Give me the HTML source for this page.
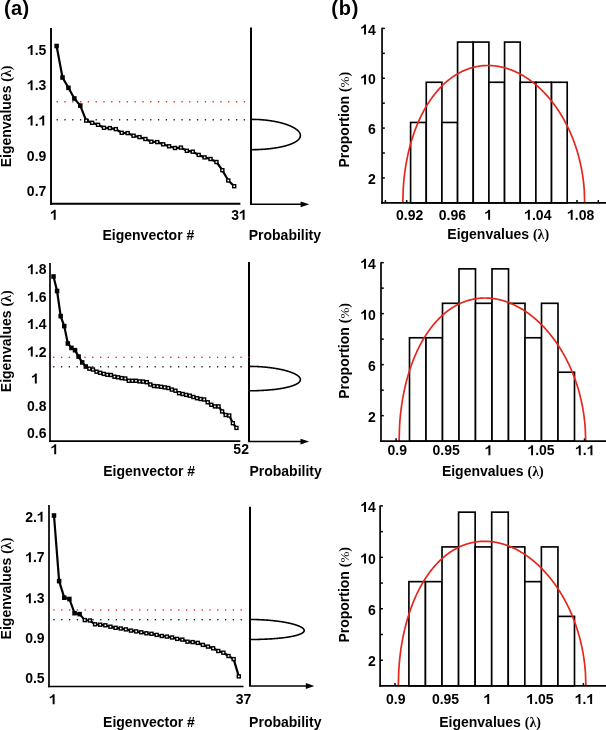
<!DOCTYPE html>
<html><head><meta charset="utf-8"><style>
html,body{margin:0;padding:0;background:#fff;}
svg{display:block;font-family:"Liberation Sans", sans-serif;will-change:transform;}
</style></head><body>
<svg width="606" height="730" viewBox="0 0 606 730">
<rect width="606" height="730" fill="#fff"/>
<line x1="51.00" y1="27.90" x2="51.00" y2="204.65" stroke="#000" stroke-width="1.9" />
<line x1="50.05" y1="203.70" x2="240.40" y2="203.70" stroke="#000" stroke-width="1.9" />
<line x1="251.00" y1="27.40" x2="251.00" y2="204.30" stroke="#000" stroke-width="2" />
<line x1="250.00" y1="204.30" x2="302.90" y2="204.30" stroke="#000" stroke-width="1.5" />
<path d="M309.20,204.30 L300.60,201.40 L300.60,207.20 Z" fill="#000"/>
<path d="M251.00,119.35 L256.34,119.45 L258.55,119.55 L260.23,119.65 L261.64,119.75 L262.88,119.86 L264.00,119.96 L265.03,120.06 L265.97,120.16 L266.86,120.26 L267.70,120.36 L268.49,120.46 L269.24,120.56 L269.96,120.67 L270.65,120.77 L271.31,120.87 L271.95,120.97 L272.57,121.07 L273.16,121.17 L273.74,121.27 L274.30,121.37 L274.84,121.47 L275.37,121.58 L275.88,121.68 L276.38,121.78 L276.87,121.88 L277.34,121.98 L277.80,122.08 L278.26,122.18 L278.70,122.28 L279.13,122.38 L279.56,122.49 L279.97,122.59 L280.38,122.69 L280.78,122.79 L281.17,122.89 L281.55,122.99 L281.92,123.09 L282.29,123.19 L282.65,123.30 L283.01,123.40 L283.36,123.50 L283.70,123.60 L284.04,123.70 L284.37,123.80 L284.69,123.90 L285.01,124.00 L285.32,124.10 L285.63,124.21 L285.94,124.31 L286.24,124.41 L286.53,124.51 L286.82,124.61 L287.10,124.71 L287.38,124.81 L287.66,124.91 L287.93,125.02 L288.20,125.12 L288.46,125.22 L288.72,125.32 L288.97,125.42 L289.23,125.52 L289.47,125.62 L289.72,125.72 L289.96,125.82 L290.19,125.93 L290.42,126.03 L290.65,126.13 L290.88,126.23 L291.10,126.33 L291.32,126.43 L291.54,126.53 L291.75,126.63 L291.96,126.74 L292.16,126.84 L292.36,126.94 L292.56,127.04 L292.76,127.14 L292.95,127.24 L293.14,127.34 L293.33,127.44 L293.52,127.54 L293.70,127.65 L293.88,127.75 L294.05,127.85 L294.23,127.95 L294.40,128.05 L294.56,128.15 L294.73,128.25 L294.89,128.35 L295.05,128.45 L295.21,128.56 L295.36,128.66 L295.51,128.76 L295.66,128.86 L295.81,128.96 L295.95,129.06 L296.09,129.16 L296.23,129.26 L296.37,129.37 L296.50,129.47 L296.64,129.57 L296.76,129.67 L296.89,129.77 L297.02,129.87 L297.14,129.97 L297.26,130.07 L297.37,130.17 L297.49,130.28 L297.60,130.38 L297.71,130.48 L297.82,130.58 L297.93,130.68 L298.03,130.78 L298.13,130.88 L298.23,130.98 L298.33,131.09 L298.42,131.19 L298.51,131.29 L298.60,131.39 L298.69,131.49 L298.77,131.59 L298.86,131.69 L298.94,131.79 L299.02,131.89 L299.09,132.00 L299.17,132.10 L299.24,132.20 L299.31,132.30 L299.38,132.40 L299.44,132.50 L299.51,132.60 L299.57,132.70 L299.63,132.81 L299.68,132.91 L299.74,133.01 L299.79,133.11 L299.84,133.21 L299.89,133.31 L299.93,133.41 L299.98,133.51 L300.02,133.61 L300.06,133.72 L300.10,133.82 L300.13,133.92 L300.17,134.02 L300.20,134.12 L300.22,134.22 L300.25,134.32 L300.28,134.42 L300.30,134.52 L300.32,134.63 L300.34,134.73 L300.35,134.83 L300.37,134.93 L300.38,135.03 L300.39,135.13 L300.39,135.23 L300.40,135.33 L300.40,135.44 L300.40,135.54 L300.40,135.64 L300.39,135.74 L300.39,135.84 L300.38,135.94 L300.37,136.04 L300.36,136.14 L300.34,136.24 L300.32,136.35 L300.30,136.45 L300.28,136.55 L300.26,136.65 L300.23,136.75 L300.20,136.85 L300.17,136.95 L300.13,137.05 L300.10,137.16 L300.06,137.26 L300.02,137.36 L299.98,137.46 L299.93,137.56 L299.88,137.66 L299.83,137.76 L299.78,137.86 L299.72,137.96 L299.67,138.07 L299.61,138.17 L299.54,138.27 L299.48,138.37 L299.41,138.47 L299.34,138.57 L299.27,138.67 L299.19,138.77 L299.12,138.88 L299.03,138.98 L298.95,139.08 L298.87,139.18 L298.78,139.28 L298.69,139.38 L298.59,139.48 L298.50,139.58 L298.40,139.68 L298.29,139.79 L298.19,139.89 L298.08,139.99 L297.97,140.09 L297.86,140.19 L297.74,140.29 L297.62,140.39 L297.50,140.49 L297.37,140.59 L297.25,140.70 L297.11,140.80 L296.98,140.90 L296.84,141.00 L296.70,141.10 L296.56,141.20 L296.41,141.30 L296.26,141.40 L296.11,141.51 L295.95,141.61 L295.79,141.71 L295.62,141.81 L295.46,141.91 L295.29,142.01 L295.11,142.11 L294.93,142.21 L294.75,142.31 L294.56,142.42 L294.37,142.52 L294.18,142.62 L293.98,142.72 L293.78,142.82 L293.58,142.92 L293.37,143.02 L293.15,143.12 L292.94,143.23 L292.71,143.33 L292.49,143.43 L292.26,143.53 L292.02,143.63 L291.78,143.73 L291.53,143.83 L291.28,143.93 L291.03,144.03 L290.77,144.14 L290.50,144.24 L290.23,144.34 L289.96,144.44 L289.68,144.54 L289.39,144.64 L289.10,144.74 L288.80,144.84 L288.49,144.95 L288.18,145.05 L287.86,145.15 L287.54,145.25 L287.21,145.35 L286.87,145.45 L286.53,145.55 L286.17,145.65 L285.81,145.75 L285.45,145.86 L285.07,145.96 L284.68,146.06 L284.29,146.16 L283.89,146.26 L283.48,146.36 L283.06,146.46 L282.62,146.56 L282.18,146.66 L281.73,146.77 L281.26,146.87 L280.79,146.97 L280.30,147.07 L279.79,147.17 L279.27,147.27 L278.74,147.37 L278.19,147.47 L277.63,147.58 L277.04,147.68 L276.44,147.78 L275.82,147.88 L275.17,147.98 L274.50,148.08 L273.81,148.18 L273.08,148.28 L272.33,148.38 L271.53,148.49 L270.70,148.59 L269.83,148.69 L268.90,148.79 L267.91,148.89 L266.86,148.99 L265.71,149.09 L264.46,149.19 L263.06,149.30 L261.47,149.40 L259.57,149.50 L257.07,149.60 L251.00,149.70" fill="none" stroke="#000" stroke-width="1.6"/>
<rect x="56.55" y="101.15" width="1.3" height="1.3" fill="#f00"/>
<rect x="64.35" y="101.15" width="1.3" height="1.3" fill="#f00"/>
<rect x="72.15" y="101.15" width="1.3" height="1.3" fill="#f00"/>
<rect x="79.95" y="101.15" width="1.3" height="1.3" fill="#f00"/>
<rect x="87.75" y="101.15" width="1.3" height="1.3" fill="#f00"/>
<rect x="95.55" y="101.15" width="1.3" height="1.3" fill="#f00"/>
<rect x="103.35" y="101.15" width="1.3" height="1.3" fill="#f00"/>
<rect x="111.15" y="101.15" width="1.3" height="1.3" fill="#f00"/>
<rect x="118.95" y="101.15" width="1.3" height="1.3" fill="#f00"/>
<rect x="126.75" y="101.15" width="1.3" height="1.3" fill="#f00"/>
<rect x="134.55" y="101.15" width="1.3" height="1.3" fill="#f00"/>
<rect x="142.35" y="101.15" width="1.3" height="1.3" fill="#f00"/>
<rect x="150.15" y="101.15" width="1.3" height="1.3" fill="#f00"/>
<rect x="157.95" y="101.15" width="1.3" height="1.3" fill="#f00"/>
<rect x="165.75" y="101.15" width="1.3" height="1.3" fill="#f00"/>
<rect x="173.55" y="101.15" width="1.3" height="1.3" fill="#f00"/>
<rect x="181.35" y="101.15" width="1.3" height="1.3" fill="#f00"/>
<rect x="189.15" y="101.15" width="1.3" height="1.3" fill="#f00"/>
<rect x="196.95" y="101.15" width="1.3" height="1.3" fill="#f00"/>
<rect x="204.75" y="101.15" width="1.3" height="1.3" fill="#f00"/>
<rect x="212.55" y="101.15" width="1.3" height="1.3" fill="#f00"/>
<rect x="220.35" y="101.15" width="1.3" height="1.3" fill="#f00"/>
<rect x="228.15" y="101.15" width="1.3" height="1.3" fill="#f00"/>
<rect x="235.95" y="101.15" width="1.3" height="1.3" fill="#f00"/>
<rect x="243.75" y="101.15" width="1.3" height="1.3" fill="#f00"/>
<rect x="56.55" y="119.15" width="1.3" height="1.3" fill="#000"/>
<rect x="64.35" y="119.15" width="1.3" height="1.3" fill="#000"/>
<rect x="72.15" y="119.15" width="1.3" height="1.3" fill="#000"/>
<rect x="79.95" y="119.15" width="1.3" height="1.3" fill="#000"/>
<rect x="87.75" y="119.15" width="1.3" height="1.3" fill="#000"/>
<rect x="95.55" y="119.15" width="1.3" height="1.3" fill="#000"/>
<rect x="103.35" y="119.15" width="1.3" height="1.3" fill="#000"/>
<rect x="111.15" y="119.15" width="1.3" height="1.3" fill="#000"/>
<rect x="118.95" y="119.15" width="1.3" height="1.3" fill="#000"/>
<rect x="126.75" y="119.15" width="1.3" height="1.3" fill="#000"/>
<rect x="134.55" y="119.15" width="1.3" height="1.3" fill="#000"/>
<rect x="142.35" y="119.15" width="1.3" height="1.3" fill="#000"/>
<rect x="150.15" y="119.15" width="1.3" height="1.3" fill="#000"/>
<rect x="157.95" y="119.15" width="1.3" height="1.3" fill="#000"/>
<rect x="165.75" y="119.15" width="1.3" height="1.3" fill="#000"/>
<rect x="173.55" y="119.15" width="1.3" height="1.3" fill="#000"/>
<rect x="181.35" y="119.15" width="1.3" height="1.3" fill="#000"/>
<rect x="189.15" y="119.15" width="1.3" height="1.3" fill="#000"/>
<rect x="196.95" y="119.15" width="1.3" height="1.3" fill="#000"/>
<rect x="204.75" y="119.15" width="1.3" height="1.3" fill="#000"/>
<rect x="212.55" y="119.15" width="1.3" height="1.3" fill="#000"/>
<rect x="220.35" y="119.15" width="1.3" height="1.3" fill="#000"/>
<rect x="228.15" y="119.15" width="1.3" height="1.3" fill="#000"/>
<rect x="235.95" y="119.15" width="1.3" height="1.3" fill="#000"/>
<rect x="243.75" y="119.15" width="1.3" height="1.3" fill="#000"/>
<path d="M56.60,46.00 L62.52,77.50 L68.44,87.80 L74.36,98.50 L80.28,105.60 L86.20,120.60 L92.12,122.80 L98.04,124.80 L103.96,127.80 L109.88,128.10 L115.80,129.10 L121.72,132.80 L127.64,133.10 L133.56,135.70 L139.48,137.10 L145.40,139.00 L151.32,141.70 L157.24,142.10 L163.16,144.30 L169.08,146.30 L175.00,148.00 L180.92,147.60 L186.84,150.80 L192.76,151.70 L198.68,154.90 L204.60,157.40 L210.52,159.00 L216.44,162.00 L222.36,170.20 L228.28,180.50 L234.20,186.20" fill="none" stroke="#000" stroke-width="2.2" stroke-linejoin="round"/>
<rect x="54.35" y="43.70" width="4.5" height="4.6" fill="#000"/>
<rect x="60.27" y="75.20" width="4.5" height="4.6" fill="#000"/>
<rect x="66.19" y="85.50" width="4.5" height="4.6" fill="#000"/>
<rect x="72.11" y="96.20" width="4.5" height="4.6" fill="#000"/>
<rect x="78.03" y="103.30" width="4.5" height="4.6" fill="#000"/>
<rect x="84.70" y="119.10" width="3.0" height="3.0" fill="#fff" stroke="#000" stroke-width="1.4"/>
<rect x="90.62" y="121.30" width="3.0" height="3.0" fill="#fff" stroke="#000" stroke-width="1.4"/>
<rect x="96.54" y="123.30" width="3.0" height="3.0" fill="#fff" stroke="#000" stroke-width="1.4"/>
<rect x="102.46" y="126.30" width="3.0" height="3.0" fill="#fff" stroke="#000" stroke-width="1.4"/>
<rect x="108.38" y="126.60" width="3.0" height="3.0" fill="#fff" stroke="#000" stroke-width="1.4"/>
<rect x="114.30" y="127.60" width="3.0" height="3.0" fill="#fff" stroke="#000" stroke-width="1.4"/>
<rect x="120.22" y="131.30" width="3.0" height="3.0" fill="#fff" stroke="#000" stroke-width="1.4"/>
<rect x="126.14" y="131.60" width="3.0" height="3.0" fill="#fff" stroke="#000" stroke-width="1.4"/>
<rect x="132.06" y="134.20" width="3.0" height="3.0" fill="#fff" stroke="#000" stroke-width="1.4"/>
<rect x="137.98" y="135.60" width="3.0" height="3.0" fill="#fff" stroke="#000" stroke-width="1.4"/>
<rect x="143.90" y="137.50" width="3.0" height="3.0" fill="#fff" stroke="#000" stroke-width="1.4"/>
<rect x="149.82" y="140.20" width="3.0" height="3.0" fill="#fff" stroke="#000" stroke-width="1.4"/>
<rect x="155.74" y="140.60" width="3.0" height="3.0" fill="#fff" stroke="#000" stroke-width="1.4"/>
<rect x="161.66" y="142.80" width="3.0" height="3.0" fill="#fff" stroke="#000" stroke-width="1.4"/>
<rect x="167.58" y="144.80" width="3.0" height="3.0" fill="#fff" stroke="#000" stroke-width="1.4"/>
<rect x="173.50" y="146.50" width="3.0" height="3.0" fill="#fff" stroke="#000" stroke-width="1.4"/>
<rect x="179.42" y="146.10" width="3.0" height="3.0" fill="#fff" stroke="#000" stroke-width="1.4"/>
<rect x="185.34" y="149.30" width="3.0" height="3.0" fill="#fff" stroke="#000" stroke-width="1.4"/>
<rect x="191.26" y="150.20" width="3.0" height="3.0" fill="#fff" stroke="#000" stroke-width="1.4"/>
<rect x="197.18" y="153.40" width="3.0" height="3.0" fill="#fff" stroke="#000" stroke-width="1.4"/>
<rect x="203.10" y="155.90" width="3.0" height="3.0" fill="#fff" stroke="#000" stroke-width="1.4"/>
<rect x="209.02" y="157.50" width="3.0" height="3.0" fill="#fff" stroke="#000" stroke-width="1.4"/>
<rect x="214.94" y="160.50" width="3.0" height="3.0" fill="#fff" stroke="#000" stroke-width="1.4"/>
<rect x="220.86" y="168.70" width="3.0" height="3.0" fill="#fff" stroke="#000" stroke-width="1.4"/>
<rect x="226.78" y="179.00" width="3.0" height="3.0" fill="#fff" stroke="#000" stroke-width="1.4"/>
<rect x="232.70" y="184.70" width="3.0" height="3.0" fill="#fff" stroke="#000" stroke-width="1.4"/>
<path transform="translate(26.87,55.00) scale(0.006836,-0.006836)" d="M830 0L545 0L545 1050Q390 910 125 840L125 1090Q270 1132 400 1230Q545 1340 590 1466L830 1466Z"/>
<text x="34.66" y="55.00" text-anchor="start" font-size="14" font-weight="bold" >.5</text>
<path transform="translate(26.87,90.30) scale(0.006836,-0.006836)" d="M830 0L545 0L545 1050Q390 910 125 840L125 1090Q270 1132 400 1230Q545 1340 590 1466L830 1466Z"/>
<text x="34.66" y="90.30" text-anchor="start" font-size="14" font-weight="bold" >.3</text>
<path transform="translate(26.87,125.60) scale(0.006836,-0.006836)" d="M830 0L545 0L545 1050Q390 910 125 840L125 1090Q270 1132 400 1230Q545 1340 590 1466L830 1466Z"/>
<text x="34.66" y="125.60" text-anchor="start" font-size="14" font-weight="bold" >.</text>
<path transform="translate(38.54,125.60) scale(0.006836,-0.006836)" d="M830 0L545 0L545 1050Q390 910 125 840L125 1090Q270 1132 400 1230Q545 1340 590 1466L830 1466Z"/>
<text x="36.60" y="160.80" text-anchor="middle" font-size="14" font-weight="bold" >0.9</text>
<text x="36.60" y="196.10" text-anchor="middle" font-size="14" font-weight="bold" >0.7</text>
<path transform="translate(50.00,219.70) scale(0.006836,-0.006836)" d="M830 0L545 0L545 1050Q390 910 125 840L125 1090Q270 1132 400 1230Q545 1340 590 1466L830 1466Z"/>
<text x="231.13" y="219.70" text-anchor="start" font-size="14" font-weight="bold" >3</text>
<path transform="translate(238.91,219.70) scale(0.006836,-0.006836)" d="M830 0L545 0L545 1050Q390 910 125 840L125 1090Q270 1132 400 1230Q545 1340 590 1466L830 1466Z"/>
<text x="148.40" y="239.50" text-anchor="middle" font-size="14" font-weight="bold" >Eigenvector #</text>
<text x="284.90" y="239.50" text-anchor="middle" font-size="14" font-weight="bold" >Probability</text>
<text x="6.00" y="116.40" text-anchor="middle" font-size="14" font-weight="bold" transform="rotate(-90 6.0 116.4)" dy="5">Eigenvalues <tspan font-family="Liberation Serif" font-weight="bold">(λ)</tspan></text>
<line x1="50.00" y1="263.00" x2="50.00" y2="442.05" stroke="#000" stroke-width="1.7" />
<line x1="49.15" y1="441.20" x2="240.30" y2="441.20" stroke="#000" stroke-width="1.7" />
<line x1="249.00" y1="261.90" x2="249.00" y2="441.60" stroke="#000" stroke-width="2" />
<line x1="248.00" y1="441.60" x2="302.80" y2="441.60" stroke="#000" stroke-width="1.5" />
<path d="M309.10,441.60 L300.50,438.70 L300.50,444.50 Z" fill="#000"/>
<path d="M249.00,366.40 L254.46,366.48 L256.71,366.56 L258.44,366.64 L259.88,366.73 L261.15,366.81 L262.30,366.89 L263.35,366.97 L264.32,367.05 L265.23,367.13 L266.08,367.21 L266.90,367.29 L267.67,367.38 L268.41,367.46 L269.12,367.54 L269.80,367.62 L270.45,367.70 L271.08,367.78 L271.69,367.86 L272.29,367.95 L272.86,368.03 L273.42,368.11 L273.96,368.19 L274.49,368.27 L275.00,368.35 L275.51,368.43 L276.00,368.51 L276.47,368.60 L276.94,368.68 L277.40,368.76 L277.84,368.84 L278.28,368.92 L278.71,369.00 L279.13,369.08 L279.54,369.17 L279.95,369.25 L280.34,369.33 L280.73,369.41 L281.11,369.49 L281.49,369.57 L281.85,369.65 L282.21,369.73 L282.57,369.82 L282.92,369.90 L283.26,369.98 L283.60,370.06 L283.93,370.14 L284.26,370.22 L284.58,370.30 L284.89,370.39 L285.20,370.47 L285.51,370.55 L285.81,370.63 L286.11,370.71 L286.40,370.79 L286.69,370.87 L286.97,370.95 L287.25,371.04 L287.52,371.12 L287.79,371.20 L288.06,371.28 L288.32,371.36 L288.58,371.44 L288.84,371.52 L289.09,371.61 L289.33,371.69 L289.58,371.77 L289.82,371.85 L290.06,371.93 L290.29,372.01 L290.52,372.09 L290.74,372.17 L290.97,372.26 L291.19,372.34 L291.40,372.42 L291.62,372.50 L291.83,372.58 L292.03,372.66 L292.24,372.74 L292.44,372.83 L292.64,372.91 L292.83,372.99 L293.02,373.07 L293.21,373.15 L293.40,373.23 L293.58,373.31 L293.76,373.39 L293.94,373.48 L294.12,373.56 L294.29,373.64 L294.46,373.72 L294.63,373.80 L294.79,373.88 L294.95,373.96 L295.11,374.05 L295.27,374.13 L295.42,374.21 L295.57,374.29 L295.72,374.37 L295.87,374.45 L296.01,374.53 L296.15,374.61 L296.29,374.70 L296.43,374.78 L296.56,374.86 L296.69,374.94 L296.82,375.02 L296.95,375.10 L297.07,375.18 L297.20,375.27 L297.32,375.35 L297.43,375.43 L297.55,375.51 L297.66,375.59 L297.77,375.67 L297.88,375.75 L297.98,375.83 L298.09,375.92 L298.19,376.00 L298.29,376.08 L298.38,376.16 L298.48,376.24 L298.57,376.32 L298.66,376.40 L298.74,376.49 L298.83,376.57 L298.91,376.65 L298.99,376.73 L299.07,376.81 L299.15,376.89 L299.22,376.97 L299.29,377.05 L299.36,377.14 L299.43,377.22 L299.49,377.30 L299.56,377.38 L299.62,377.46 L299.67,377.54 L299.73,377.62 L299.78,377.71 L299.84,377.79 L299.88,377.87 L299.93,377.95 L299.98,378.03 L300.02,378.11 L300.06,378.19 L300.10,378.27 L300.13,378.36 L300.17,378.44 L300.20,378.52 L300.23,378.60 L300.25,378.68 L300.28,378.76 L300.30,378.84 L300.32,378.93 L300.34,379.01 L300.35,379.09 L300.37,379.17 L300.38,379.25 L300.39,379.33 L300.39,379.41 L300.40,379.49 L300.40,379.58 L300.40,379.66 L300.40,379.74 L300.39,379.82 L300.38,379.90 L300.37,379.98 L300.36,380.06 L300.35,380.15 L300.33,380.23 L300.31,380.31 L300.29,380.39 L300.27,380.47 L300.24,380.55 L300.21,380.63 L300.18,380.71 L300.15,380.80 L300.11,380.88 L300.07,380.96 L300.03,381.04 L299.98,381.12 L299.94,381.20 L299.89,381.28 L299.84,381.37 L299.78,381.45 L299.73,381.53 L299.67,381.61 L299.61,381.69 L299.54,381.77 L299.48,381.85 L299.41,381.93 L299.33,382.02 L299.26,382.10 L299.18,382.18 L299.10,382.26 L299.02,382.34 L298.93,382.42 L298.84,382.50 L298.75,382.59 L298.65,382.67 L298.56,382.75 L298.46,382.83 L298.35,382.91 L298.25,382.99 L298.14,383.07 L298.02,383.15 L297.91,383.24 L297.79,383.32 L297.67,383.40 L297.54,383.48 L297.41,383.56 L297.28,383.64 L297.15,383.72 L297.01,383.81 L296.87,383.89 L296.72,383.97 L296.57,384.05 L296.42,384.13 L296.27,384.21 L296.11,384.29 L295.95,384.37 L295.78,384.46 L295.61,384.54 L295.44,384.62 L295.26,384.70 L295.08,384.78 L294.89,384.86 L294.70,384.94 L294.51,385.03 L294.31,385.11 L294.11,385.19 L293.91,385.27 L293.70,385.35 L293.48,385.43 L293.26,385.51 L293.04,385.59 L292.81,385.68 L292.58,385.76 L292.34,385.84 L292.10,385.92 L291.85,386.00 L291.60,386.08 L291.34,386.16 L291.08,386.25 L290.81,386.33 L290.54,386.41 L290.26,386.49 L289.98,386.57 L289.69,386.65 L289.39,386.73 L289.09,386.81 L288.78,386.90 L288.46,386.98 L288.14,387.06 L287.81,387.14 L287.47,387.22 L287.13,387.30 L286.78,387.38 L286.42,387.47 L286.06,387.55 L285.68,387.63 L285.30,387.71 L284.91,387.79 L284.51,387.87 L284.10,387.95 L283.68,388.03 L283.25,388.12 L282.81,388.20 L282.36,388.28 L281.89,388.36 L281.42,388.44 L280.93,388.52 L280.43,388.60 L279.92,388.69 L279.39,388.77 L278.85,388.85 L278.29,388.93 L277.72,389.01 L277.12,389.09 L276.51,389.17 L275.88,389.25 L275.22,389.34 L274.54,389.42 L273.84,389.50 L273.11,389.58 L272.34,389.66 L271.55,389.74 L270.71,389.82 L269.84,389.91 L268.91,389.99 L267.94,390.07 L266.89,390.15 L265.78,390.23 L264.57,390.31 L263.24,390.39 L261.77,390.47 L260.08,390.56 L258.07,390.64 L255.43,390.72 L249.00,390.80" fill="none" stroke="#000" stroke-width="1.6"/>
<rect x="53.15" y="356.65" width="1.3" height="1.3" fill="#f00"/>
<rect x="60.95" y="356.65" width="1.3" height="1.3" fill="#f00"/>
<rect x="68.75" y="356.65" width="1.3" height="1.3" fill="#f00"/>
<rect x="76.55" y="356.65" width="1.3" height="1.3" fill="#f00"/>
<rect x="84.35" y="356.65" width="1.3" height="1.3" fill="#f00"/>
<rect x="92.15" y="356.65" width="1.3" height="1.3" fill="#f00"/>
<rect x="99.95" y="356.65" width="1.3" height="1.3" fill="#f00"/>
<rect x="107.75" y="356.65" width="1.3" height="1.3" fill="#f00"/>
<rect x="115.55" y="356.65" width="1.3" height="1.3" fill="#f00"/>
<rect x="123.35" y="356.65" width="1.3" height="1.3" fill="#f00"/>
<rect x="131.15" y="356.65" width="1.3" height="1.3" fill="#f00"/>
<rect x="138.95" y="356.65" width="1.3" height="1.3" fill="#f00"/>
<rect x="146.75" y="356.65" width="1.3" height="1.3" fill="#f00"/>
<rect x="154.55" y="356.65" width="1.3" height="1.3" fill="#f00"/>
<rect x="162.35" y="356.65" width="1.3" height="1.3" fill="#f00"/>
<rect x="170.15" y="356.65" width="1.3" height="1.3" fill="#f00"/>
<rect x="177.95" y="356.65" width="1.3" height="1.3" fill="#f00"/>
<rect x="185.75" y="356.65" width="1.3" height="1.3" fill="#f00"/>
<rect x="193.55" y="356.65" width="1.3" height="1.3" fill="#f00"/>
<rect x="201.35" y="356.65" width="1.3" height="1.3" fill="#f00"/>
<rect x="209.15" y="356.65" width="1.3" height="1.3" fill="#f00"/>
<rect x="216.95" y="356.65" width="1.3" height="1.3" fill="#f00"/>
<rect x="224.75" y="356.65" width="1.3" height="1.3" fill="#f00"/>
<rect x="232.55" y="356.65" width="1.3" height="1.3" fill="#f00"/>
<rect x="240.35" y="356.65" width="1.3" height="1.3" fill="#f00"/>
<rect x="248.15" y="356.65" width="1.3" height="1.3" fill="#f00"/>
<rect x="53.15" y="366.15" width="1.3" height="1.3" fill="#000"/>
<rect x="60.95" y="366.15" width="1.3" height="1.3" fill="#000"/>
<rect x="68.75" y="366.15" width="1.3" height="1.3" fill="#000"/>
<rect x="76.55" y="366.15" width="1.3" height="1.3" fill="#000"/>
<rect x="84.35" y="366.15" width="1.3" height="1.3" fill="#000"/>
<rect x="92.15" y="366.15" width="1.3" height="1.3" fill="#000"/>
<rect x="99.95" y="366.15" width="1.3" height="1.3" fill="#000"/>
<rect x="107.75" y="366.15" width="1.3" height="1.3" fill="#000"/>
<rect x="115.55" y="366.15" width="1.3" height="1.3" fill="#000"/>
<rect x="123.35" y="366.15" width="1.3" height="1.3" fill="#000"/>
<rect x="131.15" y="366.15" width="1.3" height="1.3" fill="#000"/>
<rect x="138.95" y="366.15" width="1.3" height="1.3" fill="#000"/>
<rect x="146.75" y="366.15" width="1.3" height="1.3" fill="#000"/>
<rect x="154.55" y="366.15" width="1.3" height="1.3" fill="#000"/>
<rect x="162.35" y="366.15" width="1.3" height="1.3" fill="#000"/>
<rect x="170.15" y="366.15" width="1.3" height="1.3" fill="#000"/>
<rect x="177.95" y="366.15" width="1.3" height="1.3" fill="#000"/>
<rect x="185.75" y="366.15" width="1.3" height="1.3" fill="#000"/>
<rect x="193.55" y="366.15" width="1.3" height="1.3" fill="#000"/>
<rect x="201.35" y="366.15" width="1.3" height="1.3" fill="#000"/>
<rect x="209.15" y="366.15" width="1.3" height="1.3" fill="#000"/>
<rect x="216.95" y="366.15" width="1.3" height="1.3" fill="#000"/>
<rect x="224.75" y="366.15" width="1.3" height="1.3" fill="#000"/>
<rect x="232.55" y="366.15" width="1.3" height="1.3" fill="#000"/>
<rect x="240.35" y="366.15" width="1.3" height="1.3" fill="#000"/>
<rect x="248.15" y="366.15" width="1.3" height="1.3" fill="#000"/>
<path d="M53.50,276.50 L57.09,291.00 L60.67,316.10 L64.26,326.10 L67.85,343.50 L71.44,347.90 L75.02,350.20 L78.61,356.60 L82.20,362.40 L85.78,366.50 L89.37,368.70 L92.96,369.50 L96.54,371.70 L100.13,372.80 L103.72,373.90 L107.31,374.80 L110.89,375.00 L114.48,376.70 L118.07,377.30 L121.65,378.10 L125.24,378.50 L128.83,380.80 L132.41,380.80 L136.00,380.80 L139.59,381.40 L143.18,381.60 L146.76,382.20 L150.35,384.50 L153.94,386.00 L157.52,386.30 L161.11,386.80 L164.70,387.40 L168.28,388.00 L171.87,389.60 L175.46,390.70 L179.05,393.20 L182.63,394.00 L186.22,394.90 L189.81,395.70 L193.39,397.00 L196.98,398.20 L200.57,399.00 L204.15,399.50 L207.74,402.30 L211.33,404.80 L214.92,406.40 L218.50,406.40 L222.09,411.40 L225.68,415.00 L229.26,415.50 L232.85,423.20 L236.44,427.90" fill="none" stroke="#000" stroke-width="2.2" stroke-linejoin="round"/>
<rect x="51.25" y="274.20" width="4.5" height="4.6" fill="#000"/>
<rect x="54.84" y="288.70" width="4.5" height="4.6" fill="#000"/>
<rect x="58.42" y="313.80" width="4.5" height="4.6" fill="#000"/>
<rect x="62.01" y="323.80" width="4.5" height="4.6" fill="#000"/>
<rect x="65.60" y="341.20" width="4.5" height="4.6" fill="#000"/>
<rect x="69.19" y="345.60" width="4.5" height="4.6" fill="#000"/>
<rect x="72.77" y="347.90" width="4.5" height="4.6" fill="#000"/>
<rect x="76.36" y="354.30" width="4.5" height="4.6" fill="#000"/>
<rect x="79.95" y="360.10" width="4.5" height="4.6" fill="#000"/>
<rect x="83.53" y="364.20" width="4.5" height="4.6" fill="#000"/>
<rect x="87.87" y="367.20" width="3.0" height="3.0" fill="#fff" stroke="#000" stroke-width="1.4"/>
<rect x="91.46" y="368.00" width="3.0" height="3.0" fill="#fff" stroke="#000" stroke-width="1.4"/>
<rect x="95.04" y="370.20" width="3.0" height="3.0" fill="#fff" stroke="#000" stroke-width="1.4"/>
<rect x="98.63" y="371.30" width="3.0" height="3.0" fill="#fff" stroke="#000" stroke-width="1.4"/>
<rect x="102.22" y="372.40" width="3.0" height="3.0" fill="#fff" stroke="#000" stroke-width="1.4"/>
<rect x="105.81" y="373.30" width="3.0" height="3.0" fill="#fff" stroke="#000" stroke-width="1.4"/>
<rect x="109.39" y="373.50" width="3.0" height="3.0" fill="#fff" stroke="#000" stroke-width="1.4"/>
<rect x="112.98" y="375.20" width="3.0" height="3.0" fill="#fff" stroke="#000" stroke-width="1.4"/>
<rect x="116.57" y="375.80" width="3.0" height="3.0" fill="#fff" stroke="#000" stroke-width="1.4"/>
<rect x="120.15" y="376.60" width="3.0" height="3.0" fill="#fff" stroke="#000" stroke-width="1.4"/>
<rect x="123.74" y="377.00" width="3.0" height="3.0" fill="#fff" stroke="#000" stroke-width="1.4"/>
<rect x="127.33" y="379.30" width="3.0" height="3.0" fill="#fff" stroke="#000" stroke-width="1.4"/>
<rect x="130.91" y="379.30" width="3.0" height="3.0" fill="#fff" stroke="#000" stroke-width="1.4"/>
<rect x="134.50" y="379.30" width="3.0" height="3.0" fill="#fff" stroke="#000" stroke-width="1.4"/>
<rect x="138.09" y="379.90" width="3.0" height="3.0" fill="#fff" stroke="#000" stroke-width="1.4"/>
<rect x="141.68" y="380.10" width="3.0" height="3.0" fill="#fff" stroke="#000" stroke-width="1.4"/>
<rect x="145.26" y="380.70" width="3.0" height="3.0" fill="#fff" stroke="#000" stroke-width="1.4"/>
<rect x="148.85" y="383.00" width="3.0" height="3.0" fill="#fff" stroke="#000" stroke-width="1.4"/>
<rect x="152.44" y="384.50" width="3.0" height="3.0" fill="#fff" stroke="#000" stroke-width="1.4"/>
<rect x="156.02" y="384.80" width="3.0" height="3.0" fill="#fff" stroke="#000" stroke-width="1.4"/>
<rect x="159.61" y="385.30" width="3.0" height="3.0" fill="#fff" stroke="#000" stroke-width="1.4"/>
<rect x="163.20" y="385.90" width="3.0" height="3.0" fill="#fff" stroke="#000" stroke-width="1.4"/>
<rect x="166.78" y="386.50" width="3.0" height="3.0" fill="#fff" stroke="#000" stroke-width="1.4"/>
<rect x="170.37" y="388.10" width="3.0" height="3.0" fill="#fff" stroke="#000" stroke-width="1.4"/>
<rect x="173.96" y="389.20" width="3.0" height="3.0" fill="#fff" stroke="#000" stroke-width="1.4"/>
<rect x="177.55" y="391.70" width="3.0" height="3.0" fill="#fff" stroke="#000" stroke-width="1.4"/>
<rect x="181.13" y="392.50" width="3.0" height="3.0" fill="#fff" stroke="#000" stroke-width="1.4"/>
<rect x="184.72" y="393.40" width="3.0" height="3.0" fill="#fff" stroke="#000" stroke-width="1.4"/>
<rect x="188.31" y="394.20" width="3.0" height="3.0" fill="#fff" stroke="#000" stroke-width="1.4"/>
<rect x="191.89" y="395.50" width="3.0" height="3.0" fill="#fff" stroke="#000" stroke-width="1.4"/>
<rect x="195.48" y="396.70" width="3.0" height="3.0" fill="#fff" stroke="#000" stroke-width="1.4"/>
<rect x="199.07" y="397.50" width="3.0" height="3.0" fill="#fff" stroke="#000" stroke-width="1.4"/>
<rect x="202.65" y="398.00" width="3.0" height="3.0" fill="#fff" stroke="#000" stroke-width="1.4"/>
<rect x="206.24" y="400.80" width="3.0" height="3.0" fill="#fff" stroke="#000" stroke-width="1.4"/>
<rect x="209.83" y="403.30" width="3.0" height="3.0" fill="#fff" stroke="#000" stroke-width="1.4"/>
<rect x="213.42" y="404.90" width="3.0" height="3.0" fill="#fff" stroke="#000" stroke-width="1.4"/>
<rect x="217.00" y="404.90" width="3.0" height="3.0" fill="#fff" stroke="#000" stroke-width="1.4"/>
<rect x="220.59" y="409.90" width="3.0" height="3.0" fill="#fff" stroke="#000" stroke-width="1.4"/>
<rect x="224.18" y="413.50" width="3.0" height="3.0" fill="#fff" stroke="#000" stroke-width="1.4"/>
<rect x="227.76" y="414.00" width="3.0" height="3.0" fill="#fff" stroke="#000" stroke-width="1.4"/>
<rect x="231.35" y="421.70" width="3.0" height="3.0" fill="#fff" stroke="#000" stroke-width="1.4"/>
<rect x="234.94" y="426.40" width="3.0" height="3.0" fill="#fff" stroke="#000" stroke-width="1.4"/>
<path transform="translate(27.07,274.30) scale(0.006836,-0.006836)" d="M830 0L545 0L545 1050Q390 910 125 840L125 1090Q270 1132 400 1230Q545 1340 590 1466L830 1466Z"/>
<text x="34.86" y="274.30" text-anchor="start" font-size="14" font-weight="bold" >.8</text>
<path transform="translate(27.07,301.80) scale(0.006836,-0.006836)" d="M830 0L545 0L545 1050Q390 910 125 840L125 1090Q270 1132 400 1230Q545 1340 590 1466L830 1466Z"/>
<text x="34.86" y="301.80" text-anchor="start" font-size="14" font-weight="bold" >.6</text>
<path transform="translate(27.07,329.10) scale(0.006836,-0.006836)" d="M830 0L545 0L545 1050Q390 910 125 840L125 1090Q270 1132 400 1230Q545 1340 590 1466L830 1466Z"/>
<text x="34.86" y="329.10" text-anchor="start" font-size="14" font-weight="bold" >.4</text>
<path transform="translate(27.07,356.50) scale(0.006836,-0.006836)" d="M830 0L545 0L545 1050Q390 910 125 840L125 1090Q270 1132 400 1230Q545 1340 590 1466L830 1466Z"/>
<text x="34.86" y="356.50" text-anchor="start" font-size="14" font-weight="bold" >.2</text>
<path transform="translate(31.11,383.60) scale(0.006836,-0.006836)" d="M830 0L545 0L545 1050Q390 910 125 840L125 1090Q270 1132 400 1230Q545 1340 590 1466L830 1466Z"/>
<text x="36.80" y="410.60" text-anchor="middle" font-size="14" font-weight="bold" >0.8</text>
<text x="36.80" y="437.80" text-anchor="middle" font-size="14" font-weight="bold" >0.6</text>
<path transform="translate(50.50,454.30) scale(0.006836,-0.006836)" d="M830 0L545 0L545 1050Q390 910 125 840L125 1090Q270 1132 400 1230Q545 1340 590 1466L830 1466Z"/>
<text x="248.94" y="454.30" text-anchor="end" font-size="14" font-weight="bold" >52</text>
<text x="149.20" y="476.00" text-anchor="middle" font-size="14" font-weight="bold" >Eigenvector #</text>
<text x="285.60" y="476.00" text-anchor="middle" font-size="14" font-weight="bold" >Probability</text>
<text x="6.00" y="341.30" text-anchor="middle" font-size="14" font-weight="bold" transform="rotate(-90 6.0 341.3)" dy="5">Eigenvalues <tspan font-family="Liberation Serif" font-weight="bold">(λ)</tspan></text>
<line x1="49.00" y1="505.10" x2="49.00" y2="687.35" stroke="#000" stroke-width="1.7" />
<line x1="48.15" y1="686.50" x2="243.50" y2="686.50" stroke="#000" stroke-width="1.7" />
<line x1="250.00" y1="506.80" x2="250.00" y2="686.00" stroke="#000" stroke-width="2" />
<line x1="249.00" y1="686.00" x2="308.10" y2="686.00" stroke="#000" stroke-width="1.5" />
<path d="M314.40,686.00 L305.80,683.10 L305.80,688.90 Z" fill="#000"/>
<path d="M250.00,619.50 L255.65,619.57 L257.99,619.63 L259.77,619.70 L261.27,619.77 L262.59,619.83 L263.78,619.90 L264.86,619.97 L265.87,620.03 L266.82,620.10 L267.71,620.17 L268.55,620.23 L269.35,620.30 L270.12,620.37 L270.86,620.43 L271.57,620.50 L272.25,620.57 L272.91,620.63 L273.54,620.70 L274.16,620.77 L274.76,620.83 L275.34,620.90 L275.91,620.97 L276.46,621.03 L276.99,621.10 L277.52,621.17 L278.03,621.23 L278.53,621.30 L279.02,621.37 L279.49,621.43 L279.96,621.50 L280.42,621.57 L280.87,621.63 L281.31,621.70 L281.74,621.77 L282.16,621.83 L282.57,621.90 L282.98,621.97 L283.38,622.03 L283.77,622.10 L284.16,622.17 L284.54,622.23 L284.91,622.30 L285.28,622.37 L285.64,622.43 L285.99,622.50 L286.34,622.57 L286.69,622.63 L287.02,622.70 L287.36,622.77 L287.68,622.83 L288.01,622.90 L288.32,622.97 L288.64,623.03 L288.94,623.10 L289.25,623.17 L289.55,623.23 L289.84,623.30 L290.13,623.37 L290.42,623.43 L290.70,623.50 L290.98,623.57 L291.25,623.63 L291.52,623.70 L291.79,623.77 L292.05,623.83 L292.31,623.90 L292.56,623.97 L292.82,624.03 L293.06,624.10 L293.31,624.17 L293.55,624.23 L293.79,624.30 L294.02,624.37 L294.25,624.43 L294.48,624.50 L294.70,624.57 L294.92,624.63 L295.14,624.70 L295.36,624.77 L295.57,624.83 L295.78,624.90 L295.98,624.97 L296.19,625.03 L296.39,625.10 L296.58,625.17 L296.78,625.23 L296.97,625.30 L297.16,625.37 L297.34,625.43 L297.53,625.50 L297.71,625.57 L297.88,625.63 L298.06,625.70 L298.23,625.77 L298.40,625.83 L298.56,625.90 L298.73,625.97 L298.89,626.03 L299.05,626.10 L299.20,626.17 L299.36,626.23 L299.51,626.30 L299.66,626.37 L299.80,626.43 L299.95,626.50 L300.09,626.57 L300.23,626.63 L300.36,626.70 L300.49,626.77 L300.63,626.83 L300.75,626.90 L300.88,626.97 L301.00,627.03 L301.13,627.10 L301.24,627.17 L301.36,627.23 L301.47,627.30 L301.59,627.37 L301.70,627.43 L301.80,627.50 L301.91,627.57 L302.01,627.63 L302.11,627.70 L302.21,627.77 L302.30,627.83 L302.40,627.90 L302.49,627.97 L302.57,628.03 L302.66,628.10 L302.74,628.17 L302.82,628.23 L302.90,628.30 L302.98,628.37 L303.05,628.43 L303.13,628.50 L303.20,628.57 L303.26,628.63 L303.33,628.70 L303.39,628.77 L303.45,628.83 L303.51,628.90 L303.57,628.97 L303.62,629.03 L303.67,629.10 L303.72,629.17 L303.77,629.23 L303.81,629.30 L303.85,629.37 L303.89,629.43 L303.93,629.50 L303.96,629.57 L304.00,629.63 L304.03,629.70 L304.05,629.77 L304.08,629.83 L304.10,629.90 L304.12,629.97 L304.14,630.03 L304.16,630.10 L304.17,630.17 L304.18,630.23 L304.19,630.30 L304.20,630.37 L304.20,630.43 L304.20,630.50 L304.20,630.57 L304.20,630.63 L304.19,630.70 L304.18,630.77 L304.17,630.83 L304.16,630.90 L304.14,630.97 L304.12,631.03 L304.10,631.10 L304.08,631.17 L304.05,631.23 L304.02,631.30 L303.99,631.37 L303.95,631.43 L303.92,631.50 L303.88,631.57 L303.84,631.63 L303.79,631.70 L303.74,631.77 L303.69,631.83 L303.64,631.90 L303.58,631.97 L303.53,632.03 L303.46,632.10 L303.40,632.17 L303.33,632.23 L303.26,632.30 L303.19,632.37 L303.11,632.43 L303.04,632.50 L302.95,632.57 L302.87,632.63 L302.78,632.70 L302.69,632.77 L302.60,632.83 L302.50,632.90 L302.40,632.97 L302.30,633.03 L302.19,633.10 L302.08,633.17 L301.97,633.23 L301.85,633.30 L301.73,633.37 L301.61,633.43 L301.49,633.50 L301.36,633.57 L301.22,633.63 L301.09,633.70 L300.95,633.77 L300.80,633.83 L300.66,633.90 L300.51,633.97 L300.35,634.03 L300.19,634.10 L300.03,634.17 L299.86,634.23 L299.69,634.30 L299.52,634.37 L299.34,634.43 L299.16,634.50 L298.98,634.57 L298.79,634.63 L298.59,634.70 L298.39,634.77 L298.19,634.83 L297.98,634.90 L297.77,634.97 L297.55,635.03 L297.33,635.10 L297.10,635.17 L296.87,635.23 L296.64,635.30 L296.39,635.37 L296.15,635.43 L295.90,635.50 L295.64,635.57 L295.38,635.63 L295.11,635.70 L294.84,635.77 L294.56,635.83 L294.27,635.90 L293.98,635.97 L293.68,636.03 L293.38,636.10 L293.07,636.17 L292.75,636.23 L292.43,636.30 L292.09,636.37 L291.76,636.43 L291.41,636.50 L291.06,636.57 L290.70,636.63 L290.33,636.70 L289.95,636.77 L289.57,636.83 L289.17,636.90 L288.77,636.97 L288.35,637.03 L287.93,637.10 L287.50,637.17 L287.06,637.23 L286.60,637.30 L286.14,637.37 L285.66,637.43 L285.17,637.50 L284.67,637.57 L284.15,637.63 L283.62,637.70 L283.08,637.77 L282.52,637.83 L281.94,637.90 L281.35,637.97 L280.74,638.03 L280.11,638.10 L279.46,638.17 L278.78,638.23 L278.09,638.30 L277.36,638.37 L276.61,638.43 L275.83,638.50 L275.02,638.57 L274.17,638.63 L273.28,638.70 L272.34,638.77 L271.35,638.83 L270.31,638.90 L269.19,638.97 L268.00,639.03 L266.70,639.10 L265.29,639.17 L263.70,639.23 L261.90,639.30 L259.74,639.37 L256.90,639.43 L250.00,639.50" fill="none" stroke="#000" stroke-width="1.6"/>
<rect x="53.35" y="609.35" width="1.3" height="1.3" fill="#f00"/>
<rect x="61.15" y="609.35" width="1.3" height="1.3" fill="#f00"/>
<rect x="68.95" y="609.35" width="1.3" height="1.3" fill="#f00"/>
<rect x="76.75" y="609.35" width="1.3" height="1.3" fill="#f00"/>
<rect x="84.55" y="609.35" width="1.3" height="1.3" fill="#f00"/>
<rect x="92.35" y="609.35" width="1.3" height="1.3" fill="#f00"/>
<rect x="100.15" y="609.35" width="1.3" height="1.3" fill="#f00"/>
<rect x="107.95" y="609.35" width="1.3" height="1.3" fill="#f00"/>
<rect x="115.75" y="609.35" width="1.3" height="1.3" fill="#f00"/>
<rect x="123.55" y="609.35" width="1.3" height="1.3" fill="#f00"/>
<rect x="131.35" y="609.35" width="1.3" height="1.3" fill="#f00"/>
<rect x="139.15" y="609.35" width="1.3" height="1.3" fill="#f00"/>
<rect x="146.95" y="609.35" width="1.3" height="1.3" fill="#f00"/>
<rect x="154.75" y="609.35" width="1.3" height="1.3" fill="#f00"/>
<rect x="162.55" y="609.35" width="1.3" height="1.3" fill="#f00"/>
<rect x="170.35" y="609.35" width="1.3" height="1.3" fill="#f00"/>
<rect x="178.15" y="609.35" width="1.3" height="1.3" fill="#f00"/>
<rect x="185.95" y="609.35" width="1.3" height="1.3" fill="#f00"/>
<rect x="193.75" y="609.35" width="1.3" height="1.3" fill="#f00"/>
<rect x="201.55" y="609.35" width="1.3" height="1.3" fill="#f00"/>
<rect x="209.35" y="609.35" width="1.3" height="1.3" fill="#f00"/>
<rect x="217.15" y="609.35" width="1.3" height="1.3" fill="#f00"/>
<rect x="224.95" y="609.35" width="1.3" height="1.3" fill="#f00"/>
<rect x="232.75" y="609.35" width="1.3" height="1.3" fill="#f00"/>
<rect x="240.55" y="609.35" width="1.3" height="1.3" fill="#f00"/>
<rect x="53.35" y="619.05" width="1.3" height="1.3" fill="#000"/>
<rect x="61.15" y="619.05" width="1.3" height="1.3" fill="#000"/>
<rect x="68.95" y="619.05" width="1.3" height="1.3" fill="#000"/>
<rect x="76.75" y="619.05" width="1.3" height="1.3" fill="#000"/>
<rect x="84.55" y="619.05" width="1.3" height="1.3" fill="#000"/>
<rect x="92.35" y="619.05" width="1.3" height="1.3" fill="#000"/>
<rect x="100.15" y="619.05" width="1.3" height="1.3" fill="#000"/>
<rect x="107.95" y="619.05" width="1.3" height="1.3" fill="#000"/>
<rect x="115.75" y="619.05" width="1.3" height="1.3" fill="#000"/>
<rect x="123.55" y="619.05" width="1.3" height="1.3" fill="#000"/>
<rect x="131.35" y="619.05" width="1.3" height="1.3" fill="#000"/>
<rect x="139.15" y="619.05" width="1.3" height="1.3" fill="#000"/>
<rect x="146.95" y="619.05" width="1.3" height="1.3" fill="#000"/>
<rect x="154.75" y="619.05" width="1.3" height="1.3" fill="#000"/>
<rect x="162.55" y="619.05" width="1.3" height="1.3" fill="#000"/>
<rect x="170.35" y="619.05" width="1.3" height="1.3" fill="#000"/>
<rect x="178.15" y="619.05" width="1.3" height="1.3" fill="#000"/>
<rect x="185.95" y="619.05" width="1.3" height="1.3" fill="#000"/>
<rect x="193.75" y="619.05" width="1.3" height="1.3" fill="#000"/>
<rect x="201.55" y="619.05" width="1.3" height="1.3" fill="#000"/>
<rect x="209.35" y="619.05" width="1.3" height="1.3" fill="#000"/>
<rect x="217.15" y="619.05" width="1.3" height="1.3" fill="#000"/>
<rect x="224.95" y="619.05" width="1.3" height="1.3" fill="#000"/>
<rect x="232.75" y="619.05" width="1.3" height="1.3" fill="#000"/>
<rect x="240.55" y="619.05" width="1.3" height="1.3" fill="#000"/>
<path d="M54.00,515.50 L59.13,581.10 L64.27,597.70 L69.40,599.00 L74.53,613.20 L79.66,614.10 L84.80,620.10 L89.93,620.50 L95.06,624.30 L100.20,624.70 L105.33,625.30 L110.46,626.70 L115.60,627.80 L120.73,628.50 L125.86,629.40 L131.00,630.60 L136.13,631.40 L141.26,632.30 L146.39,633.30 L151.53,633.80 L156.66,634.90 L161.79,636.00 L166.93,636.60 L172.06,637.50 L177.19,638.90 L182.32,639.60 L187.46,641.70 L192.59,642.10 L197.72,642.90 L202.86,644.90 L207.99,646.60 L213.12,648.30 L218.26,651.00 L223.39,652.70 L228.52,656.00 L233.66,659.10 L238.79,676.40" fill="none" stroke="#000" stroke-width="2.2" stroke-linejoin="round"/>
<rect x="51.75" y="513.20" width="4.5" height="4.6" fill="#000"/>
<rect x="56.88" y="578.80" width="4.5" height="4.6" fill="#000"/>
<rect x="62.02" y="595.40" width="4.5" height="4.6" fill="#000"/>
<rect x="67.15" y="596.70" width="4.5" height="4.6" fill="#000"/>
<rect x="72.28" y="610.90" width="4.5" height="4.6" fill="#000"/>
<rect x="77.41" y="611.80" width="4.5" height="4.6" fill="#000"/>
<rect x="83.30" y="618.60" width="3.0" height="3.0" fill="#fff" stroke="#000" stroke-width="1.4"/>
<rect x="88.43" y="619.00" width="3.0" height="3.0" fill="#fff" stroke="#000" stroke-width="1.4"/>
<rect x="93.56" y="622.80" width="3.0" height="3.0" fill="#fff" stroke="#000" stroke-width="1.4"/>
<rect x="98.70" y="623.20" width="3.0" height="3.0" fill="#fff" stroke="#000" stroke-width="1.4"/>
<rect x="103.83" y="623.80" width="3.0" height="3.0" fill="#fff" stroke="#000" stroke-width="1.4"/>
<rect x="108.96" y="625.20" width="3.0" height="3.0" fill="#fff" stroke="#000" stroke-width="1.4"/>
<rect x="114.10" y="626.30" width="3.0" height="3.0" fill="#fff" stroke="#000" stroke-width="1.4"/>
<rect x="119.23" y="627.00" width="3.0" height="3.0" fill="#fff" stroke="#000" stroke-width="1.4"/>
<rect x="124.36" y="627.90" width="3.0" height="3.0" fill="#fff" stroke="#000" stroke-width="1.4"/>
<rect x="129.50" y="629.10" width="3.0" height="3.0" fill="#fff" stroke="#000" stroke-width="1.4"/>
<rect x="134.63" y="629.90" width="3.0" height="3.0" fill="#fff" stroke="#000" stroke-width="1.4"/>
<rect x="139.76" y="630.80" width="3.0" height="3.0" fill="#fff" stroke="#000" stroke-width="1.4"/>
<rect x="144.89" y="631.80" width="3.0" height="3.0" fill="#fff" stroke="#000" stroke-width="1.4"/>
<rect x="150.03" y="632.30" width="3.0" height="3.0" fill="#fff" stroke="#000" stroke-width="1.4"/>
<rect x="155.16" y="633.40" width="3.0" height="3.0" fill="#fff" stroke="#000" stroke-width="1.4"/>
<rect x="160.29" y="634.50" width="3.0" height="3.0" fill="#fff" stroke="#000" stroke-width="1.4"/>
<rect x="165.43" y="635.10" width="3.0" height="3.0" fill="#fff" stroke="#000" stroke-width="1.4"/>
<rect x="170.56" y="636.00" width="3.0" height="3.0" fill="#fff" stroke="#000" stroke-width="1.4"/>
<rect x="175.69" y="637.40" width="3.0" height="3.0" fill="#fff" stroke="#000" stroke-width="1.4"/>
<rect x="180.82" y="638.10" width="3.0" height="3.0" fill="#fff" stroke="#000" stroke-width="1.4"/>
<rect x="185.96" y="640.20" width="3.0" height="3.0" fill="#fff" stroke="#000" stroke-width="1.4"/>
<rect x="191.09" y="640.60" width="3.0" height="3.0" fill="#fff" stroke="#000" stroke-width="1.4"/>
<rect x="196.22" y="641.40" width="3.0" height="3.0" fill="#fff" stroke="#000" stroke-width="1.4"/>
<rect x="201.36" y="643.40" width="3.0" height="3.0" fill="#fff" stroke="#000" stroke-width="1.4"/>
<rect x="206.49" y="645.10" width="3.0" height="3.0" fill="#fff" stroke="#000" stroke-width="1.4"/>
<rect x="211.62" y="646.80" width="3.0" height="3.0" fill="#fff" stroke="#000" stroke-width="1.4"/>
<rect x="216.76" y="649.50" width="3.0" height="3.0" fill="#fff" stroke="#000" stroke-width="1.4"/>
<rect x="221.89" y="651.20" width="3.0" height="3.0" fill="#fff" stroke="#000" stroke-width="1.4"/>
<rect x="227.02" y="654.50" width="3.0" height="3.0" fill="#fff" stroke="#000" stroke-width="1.4"/>
<rect x="232.16" y="657.60" width="3.0" height="3.0" fill="#fff" stroke="#000" stroke-width="1.4"/>
<rect x="237.29" y="674.90" width="3.0" height="3.0" fill="#fff" stroke="#000" stroke-width="1.4"/>
<text x="25.17" y="521.80" text-anchor="start" font-size="14" font-weight="bold" >2.</text>
<path transform="translate(36.84,521.80) scale(0.006836,-0.006836)" d="M830 0L545 0L545 1050Q390 910 125 840L125 1090Q270 1132 400 1230Q545 1340 590 1466L830 1466Z"/>
<path transform="translate(25.17,562.30) scale(0.006836,-0.006836)" d="M830 0L545 0L545 1050Q390 910 125 840L125 1090Q270 1132 400 1230Q545 1340 590 1466L830 1466Z"/>
<text x="32.96" y="562.30" text-anchor="start" font-size="14" font-weight="bold" >.7</text>
<path transform="translate(25.17,603.20) scale(0.006836,-0.006836)" d="M830 0L545 0L545 1050Q390 910 125 840L125 1090Q270 1132 400 1230Q545 1340 590 1466L830 1466Z"/>
<text x="32.96" y="603.20" text-anchor="start" font-size="14" font-weight="bold" >.3</text>
<text x="34.90" y="643.20" text-anchor="middle" font-size="14" font-weight="bold" >0.9</text>
<text x="34.90" y="683.40" text-anchor="middle" font-size="14" font-weight="bold" >0.5</text>
<path transform="translate(48.90,704.30) scale(0.006836,-0.006836)" d="M830 0L545 0L545 1050Q390 910 125 840L125 1090Q270 1132 400 1230Q545 1340 590 1466L830 1466Z"/>
<text x="251.29" y="704.30" text-anchor="end" font-size="14" font-weight="bold" >37</text>
<text x="149.00" y="727.00" text-anchor="middle" font-size="14" font-weight="bold" >Eigenvector #</text>
<text x="285.30" y="727.00" text-anchor="middle" font-size="14" font-weight="bold" >Probability</text>
<text x="6.00" y="588.50" text-anchor="middle" font-size="14" font-weight="bold" transform="rotate(-90 6.0 588.5)" dy="5">Eigenvalues <tspan font-family="Liberation Serif" font-weight="bold">(λ)</tspan></text>
<text x="4.00" y="15.00" text-anchor="start" font-size="20" font-weight="bold" letter-spacing="0.4">(a)</text>
<text x="331.20" y="15.00" text-anchor="start" font-size="20" font-weight="bold" letter-spacing="0.8">(b)</text>
<line x1="385.40" y1="202.85" x2="385.40" y2="200.05" stroke="#000" stroke-width="1.5" />
<line x1="406.69" y1="202.85" x2="406.69" y2="200.05" stroke="#000" stroke-width="1.5" />
<line x1="427.98" y1="202.85" x2="427.98" y2="200.05" stroke="#000" stroke-width="1.5" />
<line x1="449.27" y1="202.85" x2="449.27" y2="200.05" stroke="#000" stroke-width="1.5" />
<line x1="470.56" y1="202.85" x2="470.56" y2="200.05" stroke="#000" stroke-width="1.5" />
<line x1="491.85" y1="202.85" x2="491.85" y2="200.05" stroke="#000" stroke-width="1.5" />
<line x1="513.14" y1="202.85" x2="513.14" y2="200.05" stroke="#000" stroke-width="1.5" />
<line x1="534.43" y1="202.85" x2="534.43" y2="200.05" stroke="#000" stroke-width="1.5" />
<line x1="555.72" y1="202.85" x2="555.72" y2="200.05" stroke="#000" stroke-width="1.5" />
<line x1="577.01" y1="202.85" x2="577.01" y2="200.05" stroke="#000" stroke-width="1.5" />
<line x1="598.30" y1="202.85" x2="598.30" y2="200.05" stroke="#000" stroke-width="1.5" />
<rect x="410.60" y="122.46" width="15.66" height="80.39" fill="#fff" stroke="#000" stroke-width="1.65"/>
<rect x="426.26" y="82.27" width="15.66" height="120.58" fill="#fff" stroke="#000" stroke-width="1.65"/>
<rect x="441.92" y="122.46" width="15.66" height="80.39" fill="#fff" stroke="#000" stroke-width="1.65"/>
<rect x="457.58" y="42.08" width="15.66" height="160.77" fill="#fff" stroke="#000" stroke-width="1.65"/>
<rect x="473.24" y="42.08" width="15.66" height="160.77" fill="#fff" stroke="#000" stroke-width="1.65"/>
<rect x="488.90" y="82.27" width="15.66" height="120.58" fill="#fff" stroke="#000" stroke-width="1.65"/>
<rect x="504.56" y="42.08" width="15.66" height="160.77" fill="#fff" stroke="#000" stroke-width="1.65"/>
<rect x="520.22" y="82.27" width="15.66" height="120.58" fill="#fff" stroke="#000" stroke-width="1.65"/>
<rect x="535.88" y="82.27" width="15.66" height="120.58" fill="#fff" stroke="#000" stroke-width="1.65"/>
<rect x="551.54" y="82.27" width="15.66" height="120.58" fill="#fff" stroke="#000" stroke-width="1.65"/>
<path d="M402.80,202.85 L403.25,188.24 L403.71,182.22 L404.16,177.63 L404.62,173.77 L405.07,170.39 L405.53,167.35 L405.98,164.57 L406.44,161.99 L406.89,159.58 L407.35,157.31 L407.80,155.17 L408.26,153.13 L408.71,151.18 L409.17,149.32 L409.62,147.53 L410.08,145.81 L410.53,144.15 L410.99,142.55 L411.44,141.00 L411.90,139.50 L412.35,138.04 L412.80,136.62 L413.26,135.25 L413.71,133.91 L414.17,132.60 L414.62,131.33 L415.08,130.09 L415.53,128.88 L415.99,127.70 L416.44,126.54 L416.90,125.41 L417.35,124.30 L417.81,123.22 L418.26,122.16 L418.72,121.12 L419.17,120.10 L419.63,119.11 L420.08,118.13 L420.54,117.17 L420.99,116.22 L421.44,115.30 L421.90,114.39 L422.35,113.50 L422.81,112.62 L423.26,111.76 L423.72,110.91 L424.17,110.08 L424.63,109.26 L425.08,108.46 L425.54,107.67 L425.99,106.89 L426.45,106.13 L426.90,105.37 L427.36,104.63 L427.81,103.90 L428.27,103.19 L428.72,102.48 L429.18,101.78 L429.63,101.10 L430.09,100.43 L430.54,99.76 L430.99,99.11 L431.45,98.46 L431.90,97.83 L432.36,97.20 L432.81,96.59 L433.27,95.98 L433.72,95.39 L434.18,94.80 L434.63,94.22 L435.09,93.65 L435.54,93.08 L436.00,92.53 L436.45,91.98 L436.91,91.44 L437.36,90.91 L437.82,90.39 L438.27,89.87 L438.73,89.37 L439.18,88.87 L439.63,88.37 L440.09,87.89 L440.54,87.41 L441.00,86.94 L441.45,86.47 L441.91,86.01 L442.36,85.56 L442.82,85.12 L443.27,84.68 L443.73,84.25 L444.18,83.82 L444.64,83.40 L445.09,82.99 L445.55,82.58 L446.00,82.18 L446.46,81.78 L446.91,81.40 L447.37,81.01 L447.82,80.64 L448.28,80.26 L448.73,79.90 L449.18,79.54 L449.64,79.18 L450.09,78.83 L450.55,78.49 L451.00,78.15 L451.46,77.82 L451.91,77.49 L452.37,77.17 L452.82,76.85 L453.28,76.54 L453.73,76.23 L454.19,75.93 L454.64,75.64 L455.10,75.34 L455.55,75.06 L456.01,74.78 L456.46,74.50 L456.92,74.23 L457.37,73.96 L457.82,73.70 L458.28,73.44 L458.73,73.18 L459.19,72.94 L459.64,72.69 L460.10,72.45 L460.55,72.22 L461.01,71.99 L461.46,71.76 L461.92,71.54 L462.37,71.32 L462.83,71.11 L463.28,70.90 L463.74,70.70 L464.19,70.50 L464.65,70.30 L465.10,70.11 L465.56,69.92 L466.01,69.74 L466.47,69.56 L466.92,69.39 L467.37,69.22 L467.83,69.05 L468.28,68.89 L468.74,68.73 L469.19,68.57 L469.65,68.42 L470.10,68.28 L470.56,68.13 L471.01,68.00 L471.47,67.86 L471.92,67.73 L472.38,67.60 L472.83,67.48 L473.29,67.36 L473.74,67.25 L474.20,67.14 L474.65,67.03 L475.11,66.92 L475.56,66.82 L476.01,66.73 L476.47,66.64 L476.92,66.55 L477.38,66.46 L477.83,66.38 L478.29,66.30 L478.74,66.23 L479.20,66.16 L479.65,66.09 L480.11,66.03 L480.56,65.97 L481.02,65.91 L481.47,65.86 L481.93,65.81 L482.38,65.77 L482.84,65.72 L483.29,65.69 L483.75,65.65 L484.20,65.62 L484.66,65.59 L485.11,65.57 L485.56,65.55 L486.02,65.53 L486.47,65.52 L486.93,65.51 L487.38,65.50 L487.84,65.50 L488.29,65.50 L488.75,65.50 L489.20,65.51 L489.66,65.52 L490.11,65.54 L490.57,65.55 L491.02,65.58 L491.48,65.60 L491.93,65.63 L492.39,65.66 L492.84,65.69 L493.30,65.73 L493.75,65.77 L494.20,65.82 L494.66,65.87 L495.11,65.92 L495.57,65.98 L496.02,66.03 L496.48,66.10 L496.93,66.16 L497.39,66.23 L497.84,66.30 L498.30,66.38 L498.75,66.46 L499.21,66.54 L499.66,66.62 L500.12,66.71 L500.57,66.81 L501.03,66.90 L501.48,67.00 L501.94,67.10 L502.39,67.21 L502.85,67.32 L503.30,67.43 L503.75,67.55 L504.21,67.67 L504.66,67.79 L505.12,67.92 L505.57,68.05 L506.03,68.18 L506.48,68.32 L506.94,68.46 L507.39,68.60 L507.85,68.75 L508.30,68.90 L508.76,69.05 L509.21,69.21 L509.67,69.37 L510.12,69.53 L510.58,69.70 L511.03,69.87 L511.49,70.04 L511.94,70.22 L512.39,70.40 L512.85,70.59 L513.30,70.78 L513.76,70.97 L514.21,71.16 L514.67,71.36 L515.12,71.56 L515.58,71.77 L516.03,71.98 L516.49,72.19 L516.94,72.41 L517.40,72.63 L517.85,72.85 L518.31,73.08 L518.76,73.31 L519.22,73.55 L519.67,73.78 L520.13,74.03 L520.58,74.27 L521.04,74.52 L521.49,74.78 L521.94,75.03 L522.40,75.29 L522.85,75.56 L523.31,75.83 L523.76,76.10 L524.22,76.37 L524.67,76.65 L525.13,76.94 L525.58,77.22 L526.04,77.52 L526.49,77.81 L526.95,78.11 L527.40,78.41 L527.86,78.72 L528.31,79.03 L528.77,79.35 L529.22,79.67 L529.68,79.99 L530.13,80.32 L530.58,80.65 L531.04,80.98 L531.49,81.32 L531.95,81.67 L532.40,82.02 L532.86,82.37 L533.31,82.73 L533.77,83.09 L534.22,83.45 L534.68,83.82 L535.13,84.20 L535.59,84.58 L536.04,84.96 L536.50,85.35 L536.95,85.74 L537.41,86.14 L537.86,86.54 L538.32,86.95 L538.77,87.36 L539.23,87.78 L539.68,88.20 L540.13,88.62 L540.59,89.06 L541.04,89.49 L541.50,89.93 L541.95,90.38 L542.41,90.83 L542.86,91.29 L543.32,91.75 L543.77,92.22 L544.23,92.69 L544.68,93.17 L545.14,93.65 L545.59,94.14 L546.05,94.64 L546.50,95.14 L546.96,95.64 L547.41,96.15 L547.87,96.67 L548.32,97.20 L548.77,97.73 L549.23,98.26 L549.68,98.81 L550.14,99.36 L550.59,99.91 L551.05,100.48 L551.50,101.04 L551.96,101.62 L552.41,102.20 L552.87,102.79 L553.32,103.39 L553.78,103.99 L554.23,104.61 L554.69,105.23 L555.14,105.85 L555.60,106.49 L556.05,107.13 L556.51,107.78 L556.96,108.44 L557.42,109.11 L557.87,109.78 L558.32,110.47 L558.78,111.16 L559.23,111.86 L559.69,112.58 L560.14,113.30 L560.60,114.03 L561.05,114.77 L561.51,115.52 L561.96,116.29 L562.42,117.06 L562.87,117.85 L563.33,118.64 L563.78,119.45 L564.24,120.27 L564.69,121.10 L565.15,121.95 L565.60,122.81 L566.06,123.68 L566.51,124.56 L566.96,125.46 L567.42,126.38 L567.87,127.31 L568.33,128.26 L568.78,129.22 L569.24,130.21 L569.69,131.21 L570.15,132.23 L570.60,133.26 L571.06,134.32 L571.51,135.40 L571.97,136.51 L572.42,137.64 L572.88,138.79 L573.33,139.97 L573.79,141.17 L574.24,142.41 L574.70,143.68 L575.15,144.98 L575.61,146.32 L576.06,147.69 L576.51,149.11 L576.97,150.57 L577.42,152.08 L577.88,153.64 L578.33,155.26 L578.79,156.95 L579.24,158.71 L579.70,160.54 L580.15,162.47 L580.61,164.51 L581.06,166.67 L581.52,168.97 L581.97,171.45 L582.43,174.16 L582.88,177.16 L583.34,180.58 L583.79,184.65 L584.25,189.97 L584.70,202.85" fill="none" stroke="#e4281e" stroke-width="1.7"/>
<line x1="382.05" y1="27.70" x2="382.05" y2="203.70" stroke="#000" stroke-width="1.7" />
<line x1="381.20" y1="202.85" x2="606.00" y2="202.85" stroke="#000" stroke-width="1.7" />
<line x1="382.05" y1="177.93" x2="384.85" y2="177.93" stroke="#000" stroke-width="1.5" />
<line x1="382.05" y1="153.01" x2="384.85" y2="153.01" stroke="#000" stroke-width="1.5" />
<line x1="382.05" y1="128.09" x2="384.85" y2="128.09" stroke="#000" stroke-width="1.5" />
<line x1="382.05" y1="103.17" x2="384.85" y2="103.17" stroke="#000" stroke-width="1.5" />
<line x1="382.05" y1="78.25" x2="384.85" y2="78.25" stroke="#000" stroke-width="1.5" />
<line x1="382.05" y1="53.33" x2="384.85" y2="53.33" stroke="#000" stroke-width="1.5" />
<line x1="382.05" y1="28.41" x2="384.85" y2="28.41" stroke="#000" stroke-width="1.5" />
<path transform="translate(360.33,34.61) scale(0.006836,-0.006836)" d="M830 0L545 0L545 1050Q390 910 125 840L125 1090Q270 1132 400 1230Q545 1340 590 1466L830 1466Z"/>
<text x="368.11" y="34.61" text-anchor="start" font-size="14" font-weight="bold" >4</text>
<path transform="translate(360.33,84.45) scale(0.006836,-0.006836)" d="M830 0L545 0L545 1050Q390 910 125 840L125 1090Q270 1132 400 1230Q545 1340 590 1466L830 1466Z"/>
<text x="368.11" y="84.45" text-anchor="start" font-size="14" font-weight="bold" >0</text>
<text x="375.90" y="134.29" text-anchor="end" font-size="14" font-weight="bold" >6</text>
<text x="375.90" y="184.13" text-anchor="end" font-size="14" font-weight="bold" >2</text>
<text x="409.60" y="219.80" text-anchor="middle" font-size="14" font-weight="bold" >0.92</text>
<text x="452.40" y="219.80" text-anchor="middle" font-size="14" font-weight="bold" >0.96</text>
<path transform="translate(484.41,219.80) scale(0.006836,-0.006836)" d="M830 0L545 0L545 1050Q390 910 125 840L125 1090Q270 1132 400 1230Q545 1340 590 1466L830 1466Z"/>
<path transform="translate(524.18,219.80) scale(0.006836,-0.006836)" d="M830 0L545 0L545 1050Q390 910 125 840L125 1090Q270 1132 400 1230Q545 1340 590 1466L830 1466Z"/>
<text x="531.96" y="219.80" text-anchor="start" font-size="14" font-weight="bold" >.04</text>
<path transform="translate(566.98,219.80) scale(0.006836,-0.006836)" d="M830 0L545 0L545 1050Q390 910 125 840L125 1090Q270 1132 400 1230Q545 1340 590 1466L830 1466Z"/>
<text x="574.76" y="219.80" text-anchor="start" font-size="14" font-weight="bold" >.08</text>
<text x="498.20" y="239.30" text-anchor="middle" font-size="14" font-weight="bold" >Eigenvalues <tspan font-family="Liberation Serif" font-weight="bold">(λ)</tspan></text>
<text x="343.90" y="119.70" text-anchor="middle" font-size="14" font-weight="bold" transform="rotate(-90 343.9 119.7)" dy="5">Proportion <tspan font-family="Liberation Serif" font-weight="bold">(<tspan font-weight="normal" font-size="13">%</tspan>)</tspan></text>
<line x1="396.10" y1="441.15" x2="396.10" y2="438.35" stroke="#000" stroke-width="1.5" />
<line x1="443.20" y1="441.15" x2="443.20" y2="438.35" stroke="#000" stroke-width="1.5" />
<line x1="490.30" y1="441.15" x2="490.30" y2="438.35" stroke="#000" stroke-width="1.5" />
<line x1="537.40" y1="441.15" x2="537.40" y2="438.35" stroke="#000" stroke-width="1.5" />
<line x1="584.50" y1="441.15" x2="584.50" y2="438.35" stroke="#000" stroke-width="1.5" />
<rect x="409.50" y="337.77" width="16.50" height="103.38" fill="#fff" stroke="#000" stroke-width="1.65"/>
<rect x="426.00" y="337.77" width="16.50" height="103.38" fill="#fff" stroke="#000" stroke-width="1.65"/>
<rect x="442.50" y="303.31" width="16.50" height="137.84" fill="#fff" stroke="#000" stroke-width="1.65"/>
<rect x="459.00" y="268.85" width="16.50" height="172.30" fill="#fff" stroke="#000" stroke-width="1.65"/>
<rect x="475.50" y="303.31" width="16.50" height="137.84" fill="#fff" stroke="#000" stroke-width="1.65"/>
<rect x="492.00" y="268.85" width="16.50" height="172.30" fill="#fff" stroke="#000" stroke-width="1.65"/>
<rect x="508.50" y="303.31" width="16.50" height="137.84" fill="#fff" stroke="#000" stroke-width="1.65"/>
<rect x="525.00" y="337.77" width="16.50" height="103.38" fill="#fff" stroke="#000" stroke-width="1.65"/>
<rect x="541.50" y="303.31" width="16.50" height="137.84" fill="#fff" stroke="#000" stroke-width="1.65"/>
<rect x="558.00" y="372.23" width="16.50" height="68.92" fill="#fff" stroke="#000" stroke-width="1.65"/>
<path d="M399.10,441.15 L399.57,425.68 L400.03,419.30 L400.50,414.44 L400.97,410.36 L401.43,406.78 L401.90,403.57 L402.37,400.63 L402.83,397.90 L403.30,395.36 L403.77,392.96 L404.23,390.70 L404.70,388.54 L405.16,386.49 L405.63,384.52 L406.10,382.64 L406.56,380.82 L407.03,379.07 L407.50,377.38 L407.96,375.75 L408.43,374.17 L408.90,372.63 L409.36,371.14 L409.83,369.69 L410.30,368.29 L410.76,366.91 L411.23,365.58 L411.70,364.27 L412.16,363.00 L412.63,361.76 L413.10,360.54 L413.56,359.36 L414.03,358.20 L414.49,357.06 L414.96,355.95 L415.43,354.86 L415.89,353.79 L416.36,352.75 L416.83,351.72 L417.29,350.72 L417.76,349.73 L418.23,348.76 L418.69,347.81 L419.16,346.88 L419.63,345.96 L420.09,345.06 L420.56,344.18 L421.03,343.31 L421.49,342.46 L421.96,341.62 L422.43,340.79 L422.89,339.98 L423.36,339.19 L423.82,338.40 L424.29,337.63 L424.76,336.87 L425.22,336.12 L425.69,335.39 L426.16,334.66 L426.62,333.95 L427.09,333.25 L427.56,332.56 L428.02,331.88 L428.49,331.21 L428.96,330.56 L429.42,329.91 L429.89,329.27 L430.36,328.64 L430.82,328.02 L431.29,327.41 L431.75,326.81 L432.22,326.22 L432.69,325.64 L433.15,325.07 L433.62,324.50 L434.09,323.95 L434.55,323.40 L435.02,322.86 L435.49,322.33 L435.95,321.80 L436.42,321.29 L436.89,320.78 L437.35,320.28 L437.82,319.79 L438.29,319.30 L438.75,318.82 L439.22,318.35 L439.69,317.89 L440.15,317.43 L440.62,316.98 L441.09,316.54 L441.55,316.10 L442.02,315.67 L442.48,315.25 L442.95,314.83 L443.42,314.42 L443.88,314.02 L444.35,313.62 L444.82,313.23 L445.28,312.84 L445.75,312.47 L446.22,312.09 L446.68,311.73 L447.15,311.37 L447.62,311.01 L448.08,310.66 L448.55,310.32 L449.02,309.98 L449.48,309.65 L449.95,309.32 L450.42,309.00 L450.88,308.68 L451.35,308.37 L451.81,308.07 L452.28,307.77 L452.75,307.47 L453.21,307.18 L453.68,306.90 L454.15,306.62 L454.61,306.35 L455.08,306.08 L455.55,305.82 L456.01,305.56 L456.48,305.30 L456.95,305.05 L457.41,304.81 L457.88,304.57 L458.35,304.34 L458.81,304.11 L459.28,303.88 L459.75,303.66 L460.21,303.44 L460.68,303.23 L461.14,303.03 L461.61,302.82 L462.08,302.63 L462.54,302.43 L463.01,302.25 L463.48,302.06 L463.94,301.88 L464.41,301.71 L464.88,301.53 L465.34,301.37 L465.81,301.21 L466.28,301.05 L466.74,300.89 L467.21,300.74 L467.68,300.60 L468.14,300.46 L468.61,300.32 L469.08,300.19 L469.54,300.06 L470.01,299.93 L470.47,299.81 L470.94,299.70 L471.41,299.58 L471.87,299.47 L472.34,299.37 L472.81,299.27 L473.27,299.17 L473.74,299.08 L474.21,298.99 L474.67,298.91 L475.14,298.83 L475.61,298.75 L476.07,298.68 L476.54,298.61 L477.01,298.54 L477.47,298.48 L477.94,298.42 L478.41,298.37 L478.87,298.32 L479.34,298.27 L479.80,298.23 L480.27,298.19 L480.74,298.15 L481.20,298.12 L481.67,298.09 L482.14,298.07 L482.60,298.05 L483.07,298.03 L483.54,298.02 L484.00,298.01 L484.47,298.00 L484.94,298.00 L485.40,298.00 L485.87,298.01 L486.34,298.01 L486.80,298.03 L487.27,298.04 L487.74,298.06 L488.20,298.08 L488.67,298.11 L489.13,298.14 L489.60,298.17 L490.07,298.21 L490.53,298.25 L491.00,298.30 L491.47,298.34 L491.93,298.40 L492.40,298.45 L492.87,298.51 L493.33,298.57 L493.80,298.64 L494.27,298.71 L494.73,298.78 L495.20,298.85 L495.67,298.93 L496.13,299.02 L496.60,299.10 L497.07,299.19 L497.53,299.29 L498.00,299.38 L498.46,299.48 L498.93,299.59 L499.40,299.69 L499.86,299.81 L500.33,299.92 L500.80,300.04 L501.26,300.16 L501.73,300.28 L502.20,300.41 L502.66,300.54 L503.13,300.68 L503.60,300.82 L504.06,300.96 L504.53,301.11 L505.00,301.26 L505.46,301.41 L505.93,301.56 L506.40,301.72 L506.86,301.89 L507.33,302.05 L507.79,302.22 L508.26,302.40 L508.73,302.58 L509.19,302.76 L509.66,302.94 L510.13,303.13 L510.59,303.32 L511.06,303.52 L511.53,303.72 L511.99,303.92 L512.46,304.12 L512.93,304.33 L513.39,304.55 L513.86,304.76 L514.33,304.99 L514.79,305.21 L515.26,305.44 L515.73,305.67 L516.19,305.90 L516.66,306.14 L517.12,306.39 L517.59,306.63 L518.06,306.88 L518.52,307.14 L518.99,307.39 L519.46,307.65 L519.92,307.92 L520.39,308.19 L520.86,308.46 L521.32,308.74 L521.79,309.02 L522.26,309.30 L522.72,309.59 L523.19,309.88 L523.66,310.18 L524.12,310.48 L524.59,310.78 L525.06,311.09 L525.52,311.40 L525.99,311.71 L526.45,312.03 L526.92,312.36 L527.39,312.69 L527.85,313.02 L528.32,313.35 L528.79,313.69 L529.25,314.04 L529.72,314.39 L530.19,314.74 L530.65,315.10 L531.12,315.46 L531.59,315.82 L532.05,316.19 L532.52,316.57 L532.99,316.94 L533.45,317.33 L533.92,317.72 L534.38,318.11 L534.85,318.50 L535.32,318.90 L535.78,319.31 L536.25,319.72 L536.72,320.14 L537.18,320.56 L537.65,320.98 L538.12,321.41 L538.58,321.84 L539.05,322.28 L539.52,322.73 L539.98,323.18 L540.45,323.63 L540.92,324.09 L541.38,324.55 L541.85,325.02 L542.32,325.50 L542.78,325.98 L543.25,326.46 L543.72,326.95 L544.18,327.45 L544.65,327.95 L545.11,328.46 L545.58,328.97 L546.05,329.49 L546.51,330.02 L546.98,330.55 L547.45,331.08 L547.91,331.63 L548.38,332.18 L548.85,332.73 L549.31,333.29 L549.78,333.86 L550.25,334.44 L550.71,335.02 L551.18,335.60 L551.65,336.20 L552.11,336.80 L552.58,337.41 L553.05,338.02 L553.51,338.65 L553.98,339.28 L554.44,339.92 L554.91,340.56 L555.38,341.21 L555.84,341.88 L556.31,342.54 L556.78,343.22 L557.24,343.91 L557.71,344.60 L558.18,345.31 L558.64,346.02 L559.11,346.74 L559.58,347.47 L560.04,348.21 L560.51,348.96 L560.98,349.72 L561.44,350.49 L561.91,351.27 L562.38,352.06 L562.84,352.87 L563.31,353.68 L563.77,354.50 L564.24,355.34 L564.71,356.19 L565.17,357.05 L565.64,357.93 L566.11,358.82 L566.57,359.72 L567.04,360.64 L567.51,361.57 L567.97,362.52 L568.44,363.48 L568.91,364.46 L569.37,365.46 L569.84,366.47 L570.31,367.51 L570.77,368.56 L571.24,369.63 L571.71,370.73 L572.17,371.84 L572.64,372.98 L573.10,374.14 L573.57,375.33 L574.04,376.55 L574.50,377.79 L574.97,379.07 L575.44,380.37 L575.90,381.72 L576.37,383.09 L576.84,384.51 L577.30,385.97 L577.77,387.47 L578.24,389.03 L578.70,390.64 L579.17,392.30 L579.64,394.04 L580.10,395.84 L580.57,397.73 L581.04,399.71 L581.50,401.80 L581.97,404.02 L582.43,406.39 L582.90,408.94 L583.37,411.72 L583.83,414.80 L584.30,418.31 L584.77,422.49 L585.23,427.94 L585.70,441.15" fill="none" stroke="#e4281e" stroke-width="1.7"/>
<line x1="381.00" y1="262.20" x2="381.00" y2="442.00" stroke="#000" stroke-width="1.7" />
<line x1="380.15" y1="441.15" x2="606.00" y2="441.15" stroke="#000" stroke-width="1.7" />
<line x1="381.00" y1="415.65" x2="383.80" y2="415.65" stroke="#000" stroke-width="1.5" />
<line x1="381.00" y1="390.15" x2="383.80" y2="390.15" stroke="#000" stroke-width="1.5" />
<line x1="381.00" y1="364.65" x2="383.80" y2="364.65" stroke="#000" stroke-width="1.5" />
<line x1="381.00" y1="339.15" x2="383.80" y2="339.15" stroke="#000" stroke-width="1.5" />
<line x1="381.00" y1="313.65" x2="383.80" y2="313.65" stroke="#000" stroke-width="1.5" />
<line x1="381.00" y1="288.15" x2="383.80" y2="288.15" stroke="#000" stroke-width="1.5" />
<line x1="381.00" y1="262.65" x2="383.80" y2="262.65" stroke="#000" stroke-width="1.5" />
<path transform="translate(360.33,268.85) scale(0.006836,-0.006836)" d="M830 0L545 0L545 1050Q390 910 125 840L125 1090Q270 1132 400 1230Q545 1340 590 1466L830 1466Z"/>
<text x="368.11" y="268.85" text-anchor="start" font-size="14" font-weight="bold" >4</text>
<path transform="translate(360.33,319.85) scale(0.006836,-0.006836)" d="M830 0L545 0L545 1050Q390 910 125 840L125 1090Q270 1132 400 1230Q545 1340 590 1466L830 1466Z"/>
<text x="368.11" y="319.85" text-anchor="start" font-size="14" font-weight="bold" >0</text>
<text x="375.90" y="370.85" text-anchor="end" font-size="14" font-weight="bold" >6</text>
<text x="375.90" y="421.85" text-anchor="end" font-size="14" font-weight="bold" >2</text>
<text x="397.30" y="455.30" text-anchor="middle" font-size="14" font-weight="bold" >0.9</text>
<text x="446.10" y="455.30" text-anchor="middle" font-size="14" font-weight="bold" >0.95</text>
<path transform="translate(484.71,455.30) scale(0.006836,-0.006836)" d="M830 0L545 0L545 1050Q390 910 125 840L125 1090Q270 1132 400 1230Q545 1340 590 1466L830 1466Z"/>
<path transform="translate(527.38,455.30) scale(0.006836,-0.006836)" d="M830 0L545 0L545 1050Q390 910 125 840L125 1090Q270 1132 400 1230Q545 1340 590 1466L830 1466Z"/>
<text x="535.16" y="455.30" text-anchor="start" font-size="14" font-weight="bold" >.05</text>
<path transform="translate(575.07,455.30) scale(0.006836,-0.006836)" d="M830 0L545 0L545 1050Q390 910 125 840L125 1090Q270 1132 400 1230Q545 1340 590 1466L830 1466Z"/>
<text x="582.86" y="455.30" text-anchor="start" font-size="14" font-weight="bold" >.</text>
<path transform="translate(586.74,455.30) scale(0.006836,-0.006836)" d="M830 0L545 0L545 1050Q390 910 125 840L125 1090Q270 1132 400 1230Q545 1340 590 1466L830 1466Z"/>
<text x="492.80" y="476.00" text-anchor="middle" font-size="14" font-weight="bold" >Eigenvalues <tspan font-family="Liberation Serif" font-weight="bold">(λ)</tspan></text>
<text x="343.90" y="350.90" text-anchor="middle" font-size="14" font-weight="bold" transform="rotate(-90 343.9 350.9)" dy="5">Proportion <tspan font-family="Liberation Serif" font-weight="bold">(<tspan font-weight="normal" font-size="13">%</tspan>)</tspan></text>
<line x1="395.00" y1="685.90" x2="395.00" y2="683.10" stroke="#000" stroke-width="1.5" />
<line x1="442.10" y1="685.90" x2="442.10" y2="683.10" stroke="#000" stroke-width="1.5" />
<line x1="489.20" y1="685.90" x2="489.20" y2="683.10" stroke="#000" stroke-width="1.5" />
<line x1="536.30" y1="685.90" x2="536.30" y2="683.10" stroke="#000" stroke-width="1.5" />
<line x1="583.40" y1="685.90" x2="583.40" y2="683.10" stroke="#000" stroke-width="1.5" />
<rect x="408.90" y="581.65" width="16.56" height="104.25" fill="#fff" stroke="#000" stroke-width="1.65"/>
<rect x="425.46" y="581.65" width="16.56" height="104.25" fill="#fff" stroke="#000" stroke-width="1.65"/>
<rect x="442.02" y="546.91" width="16.56" height="138.99" fill="#fff" stroke="#000" stroke-width="1.65"/>
<rect x="458.58" y="512.16" width="16.56" height="173.74" fill="#fff" stroke="#000" stroke-width="1.65"/>
<rect x="475.14" y="546.91" width="16.56" height="138.99" fill="#fff" stroke="#000" stroke-width="1.65"/>
<rect x="491.70" y="512.16" width="16.56" height="173.74" fill="#fff" stroke="#000" stroke-width="1.65"/>
<rect x="508.26" y="546.91" width="16.56" height="138.99" fill="#fff" stroke="#000" stroke-width="1.65"/>
<rect x="524.82" y="581.65" width="16.56" height="104.25" fill="#fff" stroke="#000" stroke-width="1.65"/>
<rect x="541.38" y="546.91" width="16.56" height="138.99" fill="#fff" stroke="#000" stroke-width="1.65"/>
<rect x="557.94" y="616.40" width="16.56" height="69.50" fill="#fff" stroke="#000" stroke-width="1.65"/>
<path d="M398.30,685.90 L398.77,670.26 L399.24,663.82 L399.71,658.90 L400.18,654.78 L400.65,651.16 L401.11,647.91 L401.58,644.94 L402.05,642.19 L402.52,639.61 L402.99,637.19 L403.46,634.90 L403.93,632.73 L404.40,630.65 L404.87,628.67 L405.34,626.76 L405.80,624.92 L406.27,623.16 L406.74,621.45 L407.21,619.80 L407.68,618.20 L408.15,616.65 L408.62,615.14 L409.09,613.68 L409.56,612.26 L410.03,610.87 L410.49,609.52 L410.96,608.20 L411.43,606.92 L411.90,605.66 L412.37,604.43 L412.84,603.24 L413.31,602.06 L413.78,600.91 L414.25,599.79 L414.72,598.69 L415.18,597.61 L415.65,596.56 L416.12,595.52 L416.59,594.50 L417.06,593.51 L417.53,592.53 L418.00,591.57 L418.47,590.63 L418.94,589.70 L419.41,588.79 L419.87,587.90 L420.34,587.02 L420.81,586.16 L421.28,585.31 L421.75,584.48 L422.22,583.66 L422.69,582.86 L423.16,582.06 L423.63,581.28 L424.10,580.52 L424.56,579.76 L425.03,579.02 L425.50,578.29 L425.97,577.57 L426.44,576.86 L426.91,576.17 L427.38,575.48 L427.85,574.81 L428.32,574.14 L428.79,573.49 L429.25,572.84 L429.72,572.21 L430.19,571.58 L430.66,570.97 L431.13,570.36 L431.60,569.76 L432.07,569.18 L432.54,568.60 L433.01,568.03 L433.48,567.46 L433.94,566.91 L434.41,566.37 L434.88,565.83 L435.35,565.30 L435.82,564.78 L436.29,564.27 L436.76,563.76 L437.23,563.26 L437.70,562.77 L438.17,562.29 L438.63,561.82 L439.10,561.35 L439.57,560.89 L440.04,560.43 L440.51,559.98 L440.98,559.54 L441.45,559.11 L441.92,558.68 L442.39,558.26 L442.86,557.85 L443.32,557.44 L443.79,557.04 L444.26,556.65 L444.73,556.26 L445.20,555.88 L445.67,555.50 L446.14,555.13 L446.61,554.76 L447.08,554.41 L447.55,554.05 L448.01,553.71 L448.48,553.37 L448.95,553.03 L449.42,552.70 L449.89,552.38 L450.36,552.06 L450.83,551.75 L451.30,551.44 L451.77,551.14 L452.24,550.84 L452.70,550.55 L453.17,550.26 L453.64,549.98 L454.11,549.70 L454.58,549.43 L455.05,549.17 L455.52,548.90 L455.99,548.65 L456.46,548.40 L456.93,548.15 L457.39,547.91 L457.86,547.67 L458.33,547.44 L458.80,547.21 L459.27,546.99 L459.74,546.77 L460.21,546.56 L460.68,546.35 L461.15,546.15 L461.62,545.95 L462.08,545.76 L462.55,545.57 L463.02,545.38 L463.49,545.20 L463.96,545.02 L464.43,544.85 L464.90,544.68 L465.37,544.52 L465.84,544.36 L466.31,544.20 L466.77,544.05 L467.24,543.91 L467.71,543.77 L468.18,543.63 L468.65,543.49 L469.12,543.36 L469.59,543.24 L470.06,543.12 L470.53,543.00 L471.00,542.89 L471.46,542.78 L471.93,542.67 L472.40,542.57 L472.87,542.47 L473.34,542.38 L473.81,542.29 L474.28,542.21 L474.75,542.12 L475.22,542.05 L475.69,541.97 L476.15,541.90 L476.62,541.84 L477.09,541.78 L477.56,541.72 L478.03,541.66 L478.50,541.61 L478.97,541.57 L479.44,541.52 L479.91,541.49 L480.38,541.45 L480.84,541.42 L481.31,541.39 L481.78,541.37 L482.25,541.35 L482.72,541.33 L483.19,541.32 L483.66,541.31 L484.13,541.30 L484.60,541.30 L485.06,541.30 L485.53,541.31 L486.00,541.32 L486.47,541.33 L486.94,541.35 L487.41,541.37 L487.88,541.39 L488.35,541.42 L488.82,541.45 L489.29,541.48 L489.75,541.52 L490.22,541.56 L490.69,541.61 L491.16,541.65 L491.63,541.71 L492.10,541.76 L492.57,541.82 L493.04,541.89 L493.51,541.95 L493.98,542.02 L494.44,542.10 L494.91,542.17 L495.38,542.25 L495.85,542.34 L496.32,542.43 L496.79,542.52 L497.26,542.61 L497.73,542.71 L498.20,542.81 L498.67,542.92 L499.13,543.03 L499.60,543.14 L500.07,543.25 L500.54,543.37 L501.01,543.50 L501.48,543.62 L501.95,543.75 L502.42,543.89 L502.89,544.02 L503.36,544.16 L503.82,544.31 L504.29,544.46 L504.76,544.61 L505.23,544.76 L505.70,544.92 L506.17,545.08 L506.64,545.25 L507.11,545.42 L507.58,545.59 L508.05,545.77 L508.51,545.95 L508.98,546.13 L509.45,546.32 L509.92,546.51 L510.39,546.70 L510.86,546.90 L511.33,547.10 L511.80,547.30 L512.27,547.51 L512.74,547.72 L513.21,547.94 L513.67,548.16 L514.14,548.38 L514.61,548.61 L515.08,548.84 L515.55,549.07 L516.02,549.31 L516.49,549.55 L516.96,549.80 L517.43,550.05 L517.89,550.30 L518.36,550.56 L518.83,550.82 L519.30,551.08 L519.77,551.35 L520.24,551.62 L520.71,551.90 L521.18,552.18 L521.65,552.46 L522.12,552.75 L522.59,553.04 L523.05,553.34 L523.52,553.63 L523.99,553.94 L524.46,554.24 L524.93,554.56 L525.40,554.87 L525.87,555.19 L526.34,555.51 L526.81,555.84 L527.27,556.17 L527.74,556.51 L528.21,556.85 L528.68,557.19 L529.15,557.54 L529.62,557.89 L530.09,558.25 L530.56,558.61 L531.03,558.97 L531.50,559.34 L531.97,559.72 L532.43,560.09 L532.90,560.48 L533.37,560.86 L533.84,561.26 L534.31,561.65 L534.78,562.05 L535.25,562.46 L535.72,562.87 L536.19,563.28 L536.65,563.70 L537.12,564.13 L537.59,564.56 L538.06,564.99 L538.53,565.43 L539.00,565.87 L539.47,566.32 L539.94,566.77 L540.41,567.23 L540.88,567.70 L541.35,568.17 L541.81,568.64 L542.28,569.12 L542.75,569.61 L543.22,570.10 L543.69,570.59 L544.16,571.09 L544.63,571.60 L545.10,572.11 L545.57,572.63 L546.03,573.16 L546.50,573.69 L546.97,574.22 L547.44,574.77 L547.91,575.31 L548.38,575.87 L548.85,576.43 L549.32,577.00 L549.79,577.57 L550.26,578.15 L550.72,578.74 L551.19,579.33 L551.66,579.93 L552.13,580.54 L552.60,581.15 L553.07,581.78 L553.54,582.41 L554.01,583.04 L554.48,583.69 L554.95,584.34 L555.41,585.00 L555.88,585.67 L556.35,586.34 L556.82,587.03 L557.29,587.72 L557.76,588.42 L558.23,589.13 L558.70,589.85 L559.17,590.58 L559.64,591.32 L560.11,592.07 L560.57,592.82 L561.04,593.59 L561.51,594.37 L561.98,595.16 L562.45,595.96 L562.92,596.77 L563.39,597.59 L563.86,598.42 L564.33,599.27 L564.79,600.13 L565.26,601.00 L565.73,601.88 L566.20,602.78 L566.67,603.69 L567.14,604.62 L567.61,605.56 L568.08,606.52 L568.55,607.49 L569.02,608.48 L569.49,609.48 L569.95,610.51 L570.42,611.55 L570.89,612.62 L571.36,613.70 L571.83,614.80 L572.30,615.93 L572.77,617.08 L573.24,618.25 L573.71,619.46 L574.17,620.68 L574.64,621.94 L575.11,623.23 L575.58,624.55 L576.05,625.90 L576.52,627.29 L576.99,628.72 L577.46,630.19 L577.93,631.71 L578.40,633.28 L578.87,634.90 L579.33,636.59 L579.80,638.34 L580.27,640.16 L580.74,642.07 L581.21,644.07 L581.68,646.18 L582.15,648.42 L582.62,650.81 L583.09,653.38 L583.55,656.19 L584.02,659.30 L584.49,662.84 L584.96,667.06 L585.43,672.57 L585.90,685.90" fill="none" stroke="#e4281e" stroke-width="1.7"/>
<line x1="380.10" y1="505.40" x2="380.10" y2="686.75" stroke="#000" stroke-width="1.7" />
<line x1="379.25" y1="685.90" x2="606.00" y2="685.90" stroke="#000" stroke-width="1.7" />
<line x1="380.10" y1="660.19" x2="382.90" y2="660.19" stroke="#000" stroke-width="1.5" />
<line x1="380.10" y1="634.47" x2="382.90" y2="634.47" stroke="#000" stroke-width="1.5" />
<line x1="380.10" y1="608.76" x2="382.90" y2="608.76" stroke="#000" stroke-width="1.5" />
<line x1="380.10" y1="583.04" x2="382.90" y2="583.04" stroke="#000" stroke-width="1.5" />
<line x1="380.10" y1="557.33" x2="382.90" y2="557.33" stroke="#000" stroke-width="1.5" />
<line x1="380.10" y1="531.62" x2="382.90" y2="531.62" stroke="#000" stroke-width="1.5" />
<line x1="380.10" y1="505.90" x2="382.90" y2="505.90" stroke="#000" stroke-width="1.5" />
<path transform="translate(360.33,512.10) scale(0.006836,-0.006836)" d="M830 0L545 0L545 1050Q390 910 125 840L125 1090Q270 1132 400 1230Q545 1340 590 1466L830 1466Z"/>
<text x="368.11" y="512.10" text-anchor="start" font-size="14" font-weight="bold" >4</text>
<path transform="translate(360.33,563.53) scale(0.006836,-0.006836)" d="M830 0L545 0L545 1050Q390 910 125 840L125 1090Q270 1132 400 1230Q545 1340 590 1466L830 1466Z"/>
<text x="368.11" y="563.53" text-anchor="start" font-size="14" font-weight="bold" >0</text>
<text x="375.90" y="614.96" text-anchor="end" font-size="14" font-weight="bold" >6</text>
<text x="375.90" y="666.39" text-anchor="end" font-size="14" font-weight="bold" >2</text>
<text x="395.70" y="703.90" text-anchor="middle" font-size="14" font-weight="bold" >0.9</text>
<text x="445.50" y="703.90" text-anchor="middle" font-size="14" font-weight="bold" >0.95</text>
<path transform="translate(483.51,703.90) scale(0.006836,-0.006836)" d="M830 0L545 0L545 1050Q390 910 125 840L125 1090Q270 1132 400 1230Q545 1340 590 1466L830 1466Z"/>
<path transform="translate(526.38,703.90) scale(0.006836,-0.006836)" d="M830 0L545 0L545 1050Q390 910 125 840L125 1090Q270 1132 400 1230Q545 1340 590 1466L830 1466Z"/>
<text x="534.16" y="703.90" text-anchor="start" font-size="14" font-weight="bold" >.05</text>
<path transform="translate(574.77,703.90) scale(0.006836,-0.006836)" d="M830 0L545 0L545 1050Q390 910 125 840L125 1090Q270 1132 400 1230Q545 1340 590 1466L830 1466Z"/>
<text x="582.56" y="703.90" text-anchor="start" font-size="14" font-weight="bold" >.</text>
<path transform="translate(586.44,703.90) scale(0.006836,-0.006836)" d="M830 0L545 0L545 1050Q390 910 125 840L125 1090Q270 1132 400 1230Q545 1340 590 1466L830 1466Z"/>
<text x="490.10" y="727.00" text-anchor="middle" font-size="14" font-weight="bold" >Eigenvalues <tspan font-family="Liberation Serif" font-weight="bold">(λ)</tspan></text>
<text x="343.90" y="594.80" text-anchor="middle" font-size="14" font-weight="bold" transform="rotate(-90 343.9 594.8)" dy="5">Proportion <tspan font-family="Liberation Serif" font-weight="bold">(<tspan font-weight="normal" font-size="13">%</tspan>)</tspan></text>
</svg>
</body></html>
